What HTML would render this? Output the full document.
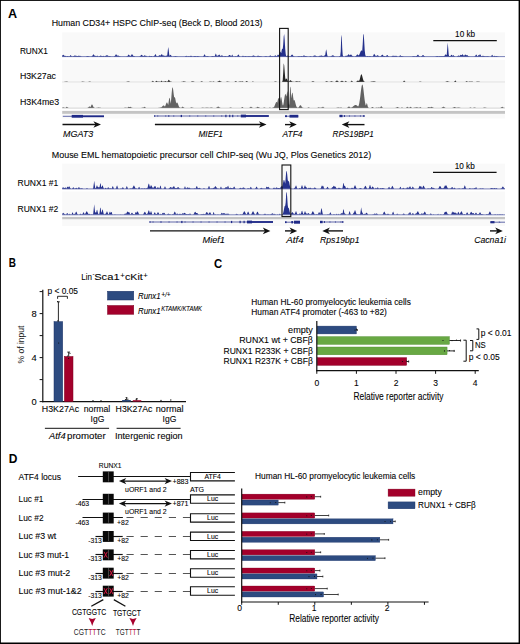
<!DOCTYPE html>
<html><head><meta charset="utf-8"><style>
html,body{margin:0;padding:0;background:#fff;}
body{width:520px;height:644px;overflow:hidden;font-family:"Liberation Sans",sans-serif;}
svg{display:block;}
text{font-family:"Liberation Sans",sans-serif;}
</style></head><body>
<svg width="520" height="644" viewBox="0 0 520 644" font-family="Liberation Sans">
<rect x="0.00" y="0.00" width="520.00" height="644.00" fill="#ffffff" />
<text x="8.00" y="18.00" font-size="12.6" font-weight="bold" fill="#000" >A</text>
<text x="51.70" y="25.90" font-size="9.78" stroke="#1a1a1a" stroke-width="0.1" textLength="210.80" lengthAdjust="spacingAndGlyphs" >Human CD34+ HSPC ChIP-seq (Beck D, Blood 2013)</text>
<rect x="62.20" y="32.30" width="442.80" height="24.90" fill="#f9f9f9" />
<path d="M62.2,56.40 L62.2,55.64 L62.7,55.00 L63.2,54.68 L63.7,55.00 L64.2,55.64 L64.7,55.72 L65.2,55.77 L65.7,56.04 L66.2,56.27 L66.7,56.21 L67.2,56.12 L67.7,56.11 L68.2,56.20 L68.7,56.30 L69.2,56.37 L69.7,56.17 L70.2,55.51 L70.7,55.07 L71.2,55.63 L71.7,56.23 L72.2,56.38 L72.7,56.35 L73.2,56.24 L73.7,56.01 L74.2,55.72 L74.7,55.53 L75.2,55.60 L75.7,55.87 L76.2,56.09 L76.7,55.75 L77.2,56.08 L77.7,56.00 L78.2,55.63 L78.7,55.81 L79.2,56.10 L79.7,55.74 L80.2,55.77 L80.7,56.14 L81.2,56.35 L81.7,56.40 L82.2,56.40 L82.7,56.40 L83.2,56.40 L83.7,56.40 L84.2,56.40 L84.7,56.40 L85.2,56.40 L85.7,56.38 L86.2,56.31 L86.7,56.16 L87.2,55.96 L87.7,55.88 L88.2,56.00 L88.7,56.20 L89.2,56.34 L89.7,56.39 L90.2,56.40 L90.7,56.40 L91.2,56.40 L91.7,56.36 L92.2,56.10 L92.7,55.29 L93.2,54.32 L93.7,54.46 L94.2,55.47 L94.7,55.45 L95.2,55.71 L95.7,56.05 L96.2,56.28 L96.7,55.93 L97.2,55.41 L97.7,55.90 L98.2,56.34 L98.7,56.38 L99.2,56.31 L99.7,56.09 L100.2,55.74 L100.7,55.51 L101.2,55.63 L101.7,55.97 L102.2,56.19 L102.7,55.90 L103.2,55.72 L103.7,55.89 L104.2,56.18 L104.7,56.26 L105.2,56.01 L105.7,55.80 L106.2,55.60 L106.7,55.22 L107.2,55.14 L107.7,55.41 L108.2,55.83 L108.7,56.16 L109.2,56.05 L109.7,56.10 L110.2,56.25 L110.7,56.36 L111.2,56.39 L111.7,56.40 L112.2,56.40 L112.7,56.40 L113.2,56.40 L113.7,56.39 L114.2,56.35 L114.7,56.12 L115.2,55.49 L115.7,54.61 L116.2,54.33 L116.7,54.99 L117.2,55.83 L117.7,55.60 L118.2,55.51 L118.7,55.68 L119.2,55.98 L119.7,56.22 L120.2,56.35 L120.7,56.39 L121.2,56.40 L121.7,56.40 L122.2,56.40 L122.7,56.40 L123.2,56.40 L123.7,56.40 L124.2,56.40 L124.7,56.40 L125.2,56.40 L125.7,56.40 L126.2,56.40 L126.7,56.37 L127.2,56.20 L127.7,55.69 L128.2,54.93 L128.7,54.61 L129.2,55.12 L129.7,55.86 L130.2,55.63 L130.7,55.88 L131.2,55.20 L131.7,54.30 L132.2,54.19 L132.7,55.00 L133.2,55.87 L133.7,56.08 L134.2,56.02 L134.7,56.24 L135.2,56.38 L135.7,56.40 L136.2,56.40 L136.7,56.40 L137.2,56.40 L137.7,56.40 L138.2,56.40 L138.7,56.40 L139.2,56.39 L139.7,56.34 L140.2,56.12 L140.7,55.59 L141.2,54.93 L141.7,54.71 L142.2,55.18 L142.7,55.84 L143.2,56.11 L143.7,56.09 L144.2,55.56 L144.7,55.34 L145.2,55.78 L145.7,55.64 L146.2,55.68 L146.7,56.16 L147.2,56.37 L147.7,56.40 L148.2,56.40 L148.7,56.34 L149.2,55.97 L149.7,55.66 L150.2,56.11 L150.7,56.33 L151.2,56.12 L151.7,56.05 L152.2,56.28 L152.7,56.38 L153.2,56.30 L153.7,56.15 L154.2,56.02 L154.7,55.24 L155.2,54.22 L155.7,54.37 L156.2,55.45 L156.7,56.16 L157.2,56.12 L157.7,56.29 L158.2,56.14 L158.7,55.70 L159.2,55.23 L159.7,55.16 L160.2,55.57 L160.7,55.39 L161.2,54.60 L161.7,54.22 L162.2,54.61 L162.7,55.41 L163.2,55.74 L163.7,55.29 L164.2,55.47 L164.7,56.01 L165.2,56.25 L165.7,55.64 L166.2,55.37 L166.7,56.04 L167.2,55.60 L167.7,51.28 L168.2,46.90 L168.7,50.12 L169.2,54.58 L169.7,55.89 L170.2,55.00 L170.7,54.68 L171.2,55.47 L171.7,56.17 L172.2,56.38 L172.7,56.40 L173.2,56.39 L173.7,56.36 L174.2,56.29 L174.7,56.19 L175.2,56.11 L175.7,56.12 L176.2,56.21 L176.7,56.31 L177.2,56.37 L177.7,56.39 L178.2,56.40 L178.7,56.40 L179.2,56.40 L179.7,56.40 L180.2,56.40 L180.7,56.40 L181.2,56.40 L181.7,56.40 L182.2,56.40 L182.7,56.40 L183.2,56.40 L183.7,56.40 L184.2,56.40 L184.7,56.39 L185.2,56.32 L185.7,56.07 L186.2,55.86 L186.7,56.08 L187.2,56.33 L187.7,56.35 L188.2,56.15 L188.7,56.03 L189.2,56.24 L189.7,56.35 L190.2,56.11 L190.7,55.71 L191.2,55.65 L191.7,56.03 L192.2,56.32 L192.7,56.38 L193.2,56.33 L193.7,56.22 L194.2,56.06 L194.7,55.92 L195.2,55.90 L195.7,56.02 L196.2,56.19 L196.7,56.22 L197.2,56.07 L197.7,56.01 L198.2,56.12 L198.7,56.27 L199.2,56.36 L199.7,56.39 L200.2,56.40 L200.7,56.40 L201.2,56.40 L201.7,56.40 L202.2,56.40 L202.7,56.40 L203.2,56.34 L203.7,55.87 L204.2,54.70 L204.7,54.24 L205.2,55.32 L205.7,56.19 L206.2,56.19 L206.7,56.08 L207.2,56.05 L207.7,56.12 L208.2,56.25 L208.7,56.34 L209.2,56.38 L209.7,56.40 L210.2,56.40 L210.7,56.38 L211.2,56.33 L211.7,56.21 L212.2,56.04 L212.7,55.94 L213.2,55.98 L213.7,56.14 L214.2,56.28 L214.7,56.13 L215.2,54.94 L215.7,53.46 L216.2,54.22 L216.7,55.81 L217.2,56.12 L217.7,55.58 L218.2,55.55 L218.7,54.90 L219.2,54.62 L219.7,54.98 L220.2,55.64 L220.7,56.04 L221.2,55.66 L221.7,55.37 L222.2,55.45 L222.7,55.81 L223.2,56.15 L223.7,56.33 L224.2,56.22 L224.7,56.07 L225.2,55.97 L225.7,56.00 L226.2,56.14 L226.7,56.28 L227.2,56.36 L227.7,56.29 L228.2,56.04 L228.7,55.55 L229.2,55.03 L229.7,54.89 L230.2,55.26 L230.7,55.81 L231.2,56.19 L231.7,55.40 L232.2,54.55 L232.7,55.57 L233.2,56.31 L233.7,56.40 L234.2,56.40 L234.7,56.35 L235.2,56.20 L235.7,56.05 L236.2,56.15 L236.7,56.33 L237.2,56.06 L237.7,55.23 L238.2,54.48 L238.7,54.87 L239.2,55.80 L239.7,56.29 L240.2,56.39 L240.7,56.40 L241.2,56.40 L241.7,56.39 L242.2,56.23 L242.7,55.77 L243.2,55.74 L243.7,56.20 L244.2,56.27 L244.7,56.17 L245.2,56.10 L245.7,56.12 L246.2,56.21 L246.7,56.31 L247.2,56.37 L247.7,56.32 L248.2,56.22 L248.7,56.12 L249.2,56.09 L249.7,56.16 L250.2,56.27 L250.7,56.35 L251.2,56.35 L251.7,56.24 L252.2,56.00 L252.7,55.65 L253.2,55.38 L253.7,55.39 L254.2,55.67 L254.7,56.02 L255.2,56.25 L255.7,56.36 L256.2,56.39 L256.7,56.34 L257.2,56.09 L257.7,55.64 L258.2,55.57 L258.7,56.00 L259.2,56.00 L259.7,55.94 L260.2,56.02 L260.7,56.17 L261.2,56.30 L261.7,56.37 L262.2,56.39 L262.7,56.40 L263.2,56.40 L263.7,56.40 L264.2,56.40 L264.7,56.35 L265.2,56.17 L265.7,55.92 L266.2,55.95 L266.7,56.21 L267.2,56.36 L267.7,56.40 L268.2,56.39 L268.7,56.35 L269.2,56.20 L269.7,55.86 L270.2,55.54 L270.7,55.60 L271.2,55.96 L271.7,56.26 L272.2,56.19 L272.7,56.10 L273.2,56.23 L273.7,56.36 L274.2,56.26 L274.7,55.81 L275.2,55.32 L275.7,55.55 L276.2,56.11 L276.7,56.34 L277.2,55.86 L277.7,54.83 L278.2,54.87 L278.7,55.20 L279.2,53.81 L279.7,52.29 L280.2,51.60 L280.7,52.29 L281.2,53.29 L281.7,50.36 L282.2,48.46 L282.7,49.34 L283.2,44.40 L283.7,36.46 L284.2,34.00 L284.7,39.99 L285.2,48.69 L285.7,54.08 L286.2,55.95 L286.7,55.95 L287.2,55.68 L287.7,55.58 L288.2,55.73 L288.7,56.01 L289.2,56.24 L289.7,56.35 L290.2,56.28 L290.7,55.96 L291.2,55.35 L291.7,54.69 L292.2,54.51 L292.7,54.98 L293.2,55.68 L293.7,56.15 L294.2,56.34 L294.7,56.39 L295.2,56.40 L295.7,56.40 L296.2,56.40 L296.7,56.40 L297.2,56.38 L297.7,56.32 L298.2,56.19 L298.7,56.07 L299.2,56.07 L299.7,56.18 L300.2,56.27 L300.7,56.17 L301.2,56.10 L301.7,56.11 L302.2,56.20 L302.7,56.16 L303.2,55.87 L303.7,55.59 L304.2,55.54 L304.7,55.76 L305.2,56.08 L305.7,55.98 L306.2,55.89 L306.7,56.15 L307.2,56.35 L307.7,56.40 L308.2,56.40 L308.7,56.40 L309.2,56.40 L309.7,56.34 L310.2,56.15 L310.7,56.08 L311.2,56.27 L311.7,56.38 L312.2,56.40 L312.7,56.38 L313.2,56.20 L313.7,55.67 L314.2,55.36 L314.7,55.82 L315.2,55.62 L315.7,55.69 L316.2,56.00 L316.7,56.26 L317.2,56.37 L317.7,56.40 L318.2,56.37 L318.7,56.25 L319.2,55.94 L319.7,55.64 L320.2,55.72 L320.7,55.78 L321.2,55.52 L321.7,55.51 L322.2,55.77 L322.7,56.08 L323.2,56.28 L323.7,56.01 L324.2,55.31 L324.7,55.65 L325.2,55.02 L325.7,51.64 L326.2,49.20 L326.7,51.64 L327.2,55.02 L327.7,56.23 L328.2,56.39 L328.7,56.40 L329.2,56.40 L329.7,56.40 L330.2,56.39 L330.7,56.36 L331.2,56.22 L331.7,55.86 L332.2,55.38 L332.7,55.13 L333.2,55.36 L333.7,55.84 L334.2,56.21 L334.7,56.36 L335.2,56.39 L335.7,56.40 L336.2,56.40 L336.7,56.40 L337.2,56.40 L337.7,56.40 L338.2,56.40 L338.7,56.39 L339.2,56.29 L339.7,56.05 L340.2,56.00 L340.7,51.56 L341.2,37.58 L341.7,34.71 L342.2,47.58 L342.7,55.08 L343.2,56.33 L343.7,56.40 L344.2,56.40 L344.7,56.38 L345.2,56.21 L345.7,55.75 L346.2,55.62 L346.7,56.08 L347.2,55.86 L347.7,55.13 L348.2,54.39 L348.7,54.23 L349.2,54.81 L349.7,55.61 L350.2,54.95 L350.7,54.49 L351.2,54.58 L351.7,55.14 L352.2,55.77 L352.7,56.17 L353.2,56.34 L353.7,56.39 L354.2,56.40 L354.7,56.39 L355.2,56.33 L355.7,56.15 L356.2,55.73 L356.7,55.08 L357.2,54.52 L357.7,54.46 L358.2,54.94 L358.7,55.59 L359.2,54.84 L359.7,53.77 L360.2,52.50 L360.7,51.30 L361.2,50.54 L361.7,50.46 L362.2,51.11 L362.7,44.22 L363.2,35.05 L363.7,33.82 L364.2,41.26 L364.7,49.89 L365.2,54.61 L365.7,56.08 L366.2,56.36 L366.7,56.28 L367.2,56.03 L367.7,55.94 L368.2,56.18 L368.7,56.36 L369.2,56.27 L369.7,56.10 L370.2,56.03 L370.7,56.16 L371.2,56.32 L371.7,56.39 L372.2,56.39 L372.7,56.29 L373.2,55.75 L373.7,54.56 L374.2,53.80 L374.7,54.56 L375.2,55.52 L375.7,55.82 L376.2,56.05 L376.7,55.63 L377.2,55.24 L377.7,55.23 L378.2,55.60 L378.7,56.04 L379.2,56.29 L379.7,56.38 L380.2,56.35 L380.7,56.18 L381.2,55.74 L381.7,55.09 L382.2,54.66 L382.7,54.86 L383.2,55.50 L383.7,56.04 L384.2,56.04 L384.7,55.97 L385.2,56.25 L385.7,56.27 L386.2,55.91 L386.7,55.31 L387.2,55.00 L387.7,55.36 L388.2,55.96 L388.7,56.29 L389.2,56.38 L389.7,56.40 L390.2,56.40 L390.7,56.40 L391.2,56.38 L391.7,56.29 L392.2,56.04 L392.7,55.71 L393.2,55.62 L393.7,55.88 L394.2,56.05 L394.7,55.86 L395.2,55.93 L395.7,55.81 L396.2,55.73 L396.7,56.06 L397.2,56.33 L397.7,56.39 L398.2,56.40 L398.7,56.38 L399.2,56.25 L399.7,55.82 L400.2,55.32 L400.7,55.42 L401.2,55.97 L401.7,55.97 L402.2,55.98 L402.7,56.15 L403.2,56.31 L403.7,56.38 L404.2,56.40 L404.7,56.40 L405.2,56.40 L405.7,56.40 L406.2,56.40 L406.7,56.40 L407.2,56.40 L407.7,56.40 L408.2,56.40 L408.7,56.40 L409.2,56.40 L409.7,56.40 L410.2,56.40 L410.7,56.40 L411.2,56.40 L411.7,56.40 L412.2,56.37 L412.7,56.29 L413.2,56.15 L413.7,56.05 L414.2,56.10 L414.7,56.24 L415.2,56.27 L415.7,56.13 L416.2,56.12 L416.7,56.03 L417.2,55.37 L417.7,54.72 L418.2,54.77 L418.7,55.46 L419.2,56.08 L419.7,56.34 L420.2,56.39 L420.7,56.39 L421.2,56.34 L421.7,56.12 L422.2,55.63 L422.7,55.11 L423.2,55.06 L423.7,55.54 L424.2,56.06 L424.7,56.32 L425.2,56.39 L425.7,56.40 L426.2,56.40 L426.7,56.40 L427.2,56.40 L427.7,56.40 L428.2,56.40 L428.7,56.40 L429.2,56.40 L429.7,56.40 L430.2,56.40 L430.7,56.40 L431.2,56.40 L431.7,56.40 L432.2,56.40 L432.7,56.40 L433.2,56.40 L433.7,56.40 L434.2,56.40 L434.7,56.40 L435.2,56.38 L435.7,56.32 L436.2,56.19 L436.7,56.02 L437.2,55.96 L437.7,56.08 L438.2,56.25 L438.7,56.28 L439.2,56.16 L439.7,56.06 L440.2,56.08 L440.7,56.19 L441.2,56.24 L441.7,56.12 L442.2,56.12 L442.7,56.24 L443.2,56.29 L443.7,56.10 L444.2,55.89 L444.7,55.60 L445.2,54.79 L445.7,54.33 L446.2,54.70 L446.7,55.21 L447.2,48.85 L447.7,42.40 L448.2,47.91 L448.7,54.51 L449.2,56.14 L449.7,56.03 L450.2,56.03 L450.7,55.78 L451.2,55.05 L451.7,54.74 L452.2,55.25 L452.7,55.95 L453.2,55.25 L453.7,55.15 L454.2,55.93 L454.7,56.34 L455.2,56.40 L455.7,56.40 L456.2,56.40 L456.7,56.40 L457.2,56.36 L457.7,56.12 L458.2,55.56 L458.7,55.42 L459.2,55.95 L459.7,55.70 L460.2,55.16 L460.7,54.87 L461.2,55.08 L461.7,55.25 L462.2,54.46 L462.7,54.31 L463.2,54.95 L463.7,55.75 L464.2,55.77 L464.7,55.00 L465.2,54.50 L465.7,54.84 L466.2,55.56 L466.7,55.07 L467.2,54.99 L467.7,55.39 L468.2,55.92 L468.7,56.24 L469.2,56.37 L469.7,56.40 L470.2,56.40 L470.7,56.40 L471.2,56.40 L471.7,56.40 L472.2,56.40 L472.7,56.40 L473.2,56.40 L473.7,56.40 L474.2,56.39 L474.7,56.31 L475.2,55.90 L475.7,54.99 L476.2,54.40 L476.7,54.99 L477.2,55.90 L477.7,56.20 L478.2,55.56 L478.7,54.99 L479.2,55.45 L479.7,54.46 L480.2,54.32 L480.7,55.29 L481.2,56.10 L481.7,56.31 L482.2,56.10 L482.7,55.84 L483.2,55.82 L483.7,56.07 L484.2,56.10 L484.7,56.13 L485.2,56.25 L485.7,56.35 L486.2,56.27 L486.7,56.15 L487.2,56.10 L487.7,56.17 L488.2,56.28 L488.7,56.36 L489.2,56.39 L489.7,56.40 L490.2,56.40 L490.7,56.39 L491.2,56.18 L491.7,55.30 L492.2,54.73 L492.7,55.62 L493.2,56.29 L493.7,56.15 L494.2,55.88 L494.7,55.80 L495.2,56.01 L495.7,56.14 L496.2,56.01 L496.7,56.01 L497.2,56.13 L497.7,56.28 L498.2,56.36 L498.7,56.39 L499.2,56.40 L499.7,56.40 L500.2,56.40 L500.7,56.40 L501.2,56.40 L501.7,56.40 L502.2,56.40 L502.7,56.40 L503.2,56.40 L503.7,56.40 L504.2,56.40 L504.7,56.40 L505.0,56.40 Z" fill="#25318c"/>
<line x1="62.20" y1="56.60" x2="505.00" y2="56.60" stroke="#25318c" stroke-width="0.6" />
<rect x="62.20" y="59.80" width="442.80" height="22.90" fill="#f9f9f9" />
<path d="M62.2,81.90 L62.2,81.90 L62.7,81.90 L63.2,81.90 L63.7,81.90 L64.2,81.88 L64.7,81.83 L65.2,81.73 L65.7,81.63 L66.2,81.59 L66.7,81.66 L67.2,81.77 L67.7,81.85 L68.2,81.89 L68.7,81.90 L69.2,81.90 L69.7,81.90 L70.2,81.90 L70.7,81.90 L71.2,81.90 L71.7,81.90 L72.2,81.90 L72.7,81.90 L73.2,81.90 L73.7,81.90 L74.2,81.90 L74.7,81.90 L75.2,81.90 L75.7,81.90 L76.2,81.90 L76.7,81.90 L77.2,81.90 L77.7,81.90 L78.2,81.90 L78.7,81.90 L79.2,81.90 L79.7,81.90 L80.2,81.90 L80.7,81.90 L81.2,81.89 L81.7,81.85 L82.2,81.74 L82.7,81.62 L83.2,81.63 L83.7,81.76 L84.2,81.86 L84.7,81.89 L85.2,81.90 L85.7,81.90 L86.2,81.90 L86.7,81.90 L87.2,81.90 L87.7,81.90 L88.2,81.89 L88.7,81.84 L89.2,81.70 L89.7,81.60 L90.2,81.69 L90.7,81.84 L91.2,81.89 L91.7,81.90 L92.2,81.90 L92.7,81.90 L93.2,81.90 L93.7,81.90 L94.2,81.90 L94.7,81.90 L95.2,81.90 L95.7,81.90 L96.2,81.90 L96.7,81.90 L97.2,81.90 L97.7,81.90 L98.2,81.90 L98.7,81.90 L99.2,81.90 L99.7,81.90 L100.2,81.90 L100.7,81.90 L101.2,81.90 L101.7,81.90 L102.2,81.90 L102.7,81.90 L103.2,81.90 L103.7,81.90 L104.2,81.90 L104.7,81.90 L105.2,81.90 L105.7,81.90 L106.2,81.90 L106.7,81.90 L107.2,81.90 L107.7,81.90 L108.2,81.90 L108.7,81.90 L109.2,81.90 L109.7,81.90 L110.2,81.90 L110.7,81.90 L111.2,81.90 L111.7,81.90 L112.2,81.90 L112.7,81.90 L113.2,81.90 L113.7,81.90 L114.2,81.90 L114.7,81.90 L115.2,81.90 L115.7,81.90 L116.2,81.90 L116.7,81.90 L117.2,81.90 L117.7,81.90 L118.2,81.90 L118.7,81.90 L119.2,81.90 L119.7,81.90 L120.2,81.90 L120.7,81.90 L121.2,81.90 L121.7,81.90 L122.2,81.90 L122.7,81.90 L123.2,81.90 L123.7,81.90 L124.2,81.90 L124.7,81.90 L125.2,81.90 L125.7,81.90 L126.2,81.89 L126.7,81.84 L127.2,81.72 L127.7,81.55 L128.2,81.47 L128.7,81.56 L129.2,81.73 L129.7,81.85 L130.2,81.89 L130.7,81.90 L131.2,81.90 L131.7,81.90 L132.2,81.90 L132.7,81.90 L133.2,81.90 L133.7,81.90 L134.2,81.90 L134.7,81.90 L135.2,81.90 L135.7,81.90 L136.2,81.90 L136.7,81.90 L137.2,81.90 L137.7,81.90 L138.2,81.90 L138.7,81.90 L139.2,81.90 L139.7,81.90 L140.2,81.90 L140.7,81.90 L141.2,81.90 L141.7,81.90 L142.2,81.90 L142.7,81.90 L143.2,81.90 L143.7,81.90 L144.2,81.90 L144.7,81.90 L145.2,81.90 L145.7,81.90 L146.2,81.90 L146.7,81.90 L147.2,81.90 L147.7,81.90 L148.2,81.90 L148.7,81.90 L149.2,81.90 L149.7,81.90 L150.2,81.90 L150.7,81.90 L151.2,81.90 L151.7,81.84 L152.2,81.42 L152.7,80.72 L153.2,81.04 L153.7,81.71 L154.2,81.89 L154.7,81.89 L155.2,81.81 L155.7,81.48 L156.2,80.90 L156.7,80.68 L157.2,81.13 L157.7,81.65 L158.2,81.81 L158.7,81.57 L159.2,81.45 L159.7,81.69 L160.2,81.87 L160.7,81.69 L161.2,80.83 L161.7,80.65 L162.2,81.56 L162.7,81.80 L163.2,81.67 L163.7,81.55 L164.2,81.53 L164.7,81.55 L165.2,81.13 L165.7,81.07 L166.2,81.46 L166.7,81.79 L167.2,81.74 L167.7,81.26 L168.2,80.38 L168.7,79.72 L169.2,80.03 L169.7,80.94 L170.2,81.60 L170.7,81.47 L171.2,81.63 L171.7,81.86 L172.2,81.90 L172.7,81.90 L173.2,81.90 L173.7,81.90 L174.2,81.90 L174.7,81.90 L175.2,81.90 L175.7,81.90 L176.2,81.90 L176.7,81.90 L177.2,81.90 L177.7,81.90 L178.2,81.90 L178.7,81.90 L179.2,81.90 L179.7,81.90 L180.2,81.90 L180.7,81.90 L181.2,81.89 L181.7,81.87 L182.2,81.80 L182.7,81.65 L183.2,81.46 L183.7,81.36 L184.2,81.44 L184.7,81.62 L185.2,81.78 L185.7,81.87 L186.2,81.89 L186.7,81.90 L187.2,81.90 L187.7,81.90 L188.2,81.90 L188.7,81.90 L189.2,81.90 L189.7,81.90 L190.2,81.90 L190.7,81.89 L191.2,81.81 L191.7,81.47 L192.2,81.23 L192.7,81.56 L193.2,81.62 L193.7,81.62 L194.2,81.82 L194.7,81.89 L195.2,81.90 L195.7,81.90 L196.2,81.90 L196.7,81.90 L197.2,81.90 L197.7,81.90 L198.2,81.90 L198.7,81.90 L199.2,81.90 L199.7,81.90 L200.2,81.89 L200.7,81.83 L201.2,81.59 L201.7,81.36 L202.2,81.52 L202.7,81.79 L203.2,81.89 L203.7,81.90 L204.2,81.90 L204.7,81.90 L205.2,81.90 L205.7,81.90 L206.2,81.90 L206.7,81.90 L207.2,81.90 L207.7,81.90 L208.2,81.90 L208.7,81.90 L209.2,81.87 L209.7,81.77 L210.2,81.63 L210.7,81.62 L211.2,81.76 L211.7,81.86 L212.2,81.89 L212.7,81.80 L213.2,81.61 L213.7,81.58 L214.2,81.76 L214.7,81.88 L215.2,81.90 L215.7,81.90 L216.2,81.90 L216.7,81.89 L217.2,81.85 L217.7,81.73 L218.2,81.45 L218.7,81.03 L219.2,80.67 L219.7,80.64 L220.2,80.97 L220.7,81.40 L221.2,81.71 L221.7,81.85 L222.2,81.89 L222.7,81.90 L223.2,81.90 L223.7,81.90 L224.2,81.90 L224.7,81.90 L225.2,81.90 L225.7,81.88 L226.2,81.83 L226.7,81.72 L227.2,81.62 L227.7,81.59 L228.2,81.68 L228.7,81.79 L229.2,81.86 L229.7,81.89 L230.2,81.90 L230.7,81.90 L231.2,81.90 L231.7,81.90 L232.2,81.90 L232.7,81.90 L233.2,81.90 L233.7,81.90 L234.2,81.90 L234.7,81.87 L235.2,81.61 L235.7,81.09 L236.2,81.24 L236.7,81.75 L237.2,81.89 L237.7,81.90 L238.2,81.89 L238.7,81.85 L239.2,81.68 L239.7,81.43 L240.2,81.38 L240.7,81.61 L241.2,81.81 L241.7,81.43 L242.2,81.20 L242.7,81.62 L243.2,81.87 L243.7,81.90 L244.2,81.90 L244.7,81.90 L245.2,81.89 L245.7,81.77 L246.2,81.30 L246.7,80.91 L247.2,81.31 L247.7,81.77 L248.2,81.89 L248.7,81.90 L249.2,81.90 L249.7,81.90 L250.2,81.90 L250.7,81.90 L251.2,81.90 L251.7,81.89 L252.2,81.80 L252.7,81.60 L253.2,81.66 L253.7,81.85 L254.2,81.90 L254.7,81.90 L255.2,81.90 L255.7,81.90 L256.2,81.90 L256.7,81.90 L257.2,81.90 L257.7,81.90 L258.2,81.90 L258.7,81.90 L259.2,81.90 L259.7,81.90 L260.2,81.90 L260.7,81.90 L261.2,81.90 L261.7,81.90 L262.2,81.90 L262.7,81.90 L263.2,81.90 L263.7,81.90 L264.2,81.90 L264.7,81.90 L265.2,81.90 L265.7,81.90 L266.2,81.90 L266.7,81.90 L267.2,81.90 L267.7,81.90 L268.2,81.90 L268.7,81.90 L269.2,81.90 L269.7,81.90 L270.2,81.90 L270.7,81.90 L271.2,81.90 L271.7,81.90 L272.2,81.90 L272.7,81.90 L273.2,81.90 L273.7,81.89 L274.2,81.86 L274.7,81.76 L275.2,81.59 L275.7,81.54 L276.2,81.67 L276.7,81.82 L277.2,81.88 L277.7,81.90 L278.2,81.90 L278.7,81.90 L279.2,81.90 L279.7,81.90 L280.2,81.90 L280.7,81.90 L281.2,81.90 L281.7,81.90 L282.2,81.79 L282.7,80.21 L283.2,72.65 L283.7,63.28 L284.2,65.13 L284.7,71.81 L285.2,77.79 L285.7,79.78 L286.2,78.64 L286.7,78.51 L287.2,79.51 L287.7,80.76 L288.2,81.53 L288.7,81.76 L289.2,81.42 L289.7,80.81 L290.2,80.22 L290.7,80.16 L291.2,80.67 L291.7,81.32 L292.2,81.54 L292.7,81.65 L293.2,81.79 L293.7,81.87 L294.2,81.89 L294.7,81.84 L295.2,81.73 L295.7,81.53 L296.2,81.32 L296.7,81.25 L297.2,81.37 L297.7,81.59 L298.2,81.64 L298.7,81.40 L299.2,81.28 L299.7,81.40 L300.2,81.64 L300.7,81.81 L301.2,81.88 L301.7,81.90 L302.2,81.90 L302.7,81.90 L303.2,81.90 L303.7,81.90 L304.2,81.90 L304.7,81.90 L305.2,81.90 L305.7,81.90 L306.2,81.90 L306.7,81.90 L307.2,81.90 L307.7,81.90 L308.2,81.90 L308.7,81.90 L309.2,81.90 L309.7,81.90 L310.2,81.90 L310.7,81.90 L311.2,81.88 L311.7,81.80 L312.2,81.57 L312.7,81.32 L313.2,81.34 L313.7,81.61 L314.2,81.82 L314.7,81.89 L315.2,81.90 L315.7,81.90 L316.2,81.90 L316.7,81.90 L317.2,81.90 L317.7,81.90 L318.2,81.90 L318.7,81.90 L319.2,81.90 L319.7,81.90 L320.2,81.90 L320.7,81.90 L321.2,81.90 L321.7,81.90 L322.2,81.90 L322.7,81.90 L323.2,81.90 L323.7,81.90 L324.2,81.90 L324.7,81.90 L325.2,81.87 L325.7,81.71 L326.2,81.36 L326.7,81.13 L327.2,81.36 L327.7,81.71 L328.2,81.87 L328.7,81.90 L329.2,81.89 L329.7,81.86 L330.2,81.76 L330.7,81.55 L331.2,81.37 L331.7,81.37 L332.2,81.56 L332.7,81.76 L333.2,81.86 L333.7,81.89 L334.2,81.90 L334.7,81.88 L335.2,81.78 L335.7,81.50 L336.2,81.00 L336.7,80.57 L337.2,80.62 L337.7,81.10 L338.2,81.57 L338.7,81.81 L339.2,81.88 L339.7,81.88 L340.2,81.82 L340.7,81.61 L341.2,81.23 L341.7,80.87 L342.2,80.83 L342.7,81.17 L343.2,81.57 L343.7,81.80 L344.2,81.88 L344.7,81.83 L345.2,81.42 L345.7,80.84 L346.2,81.15 L346.7,81.73 L347.2,81.89 L347.7,81.90 L348.2,81.90 L348.7,81.90 L349.2,81.90 L349.7,81.90 L350.2,81.90 L350.7,81.84 L351.2,81.35 L351.7,80.51 L352.2,80.96 L352.7,81.73 L353.2,81.89 L353.7,81.90 L354.2,81.90 L354.7,81.90 L355.2,81.90 L355.7,81.88 L356.2,81.78 L356.7,81.50 L357.2,80.99 L357.7,80.50 L358.2,80.45 L358.7,80.88 L359.2,80.84 L359.7,79.54 L360.2,77.60 L360.7,75.53 L361.2,74.23 L361.7,74.38 L362.2,75.91 L362.7,78.02 L363.2,79.86 L363.7,80.93 L364.2,81.42 L364.7,81.81 L365.2,81.88 L365.7,81.90 L366.2,81.90 L366.7,81.90 L367.2,81.90 L367.7,81.90 L368.2,81.90 L368.7,81.90 L369.2,81.90 L369.7,81.90 L370.2,81.90 L370.7,81.87 L371.2,81.75 L371.7,81.53 L372.2,81.42 L372.7,81.57 L373.2,81.40 L373.7,81.24 L374.2,81.27 L374.7,81.46 L375.2,81.68 L375.7,81.82 L376.2,81.88 L376.7,81.90 L377.2,81.90 L377.7,81.90 L378.2,81.90 L378.7,81.90 L379.2,81.90 L379.7,81.90 L380.2,81.90 L380.7,81.90 L381.2,81.90 L381.7,81.90 L382.2,81.90 L382.7,81.90 L383.2,81.90 L383.7,81.90 L384.2,81.90 L384.7,81.90 L385.2,81.90 L385.7,81.90 L386.2,81.90 L386.7,81.90 L387.2,81.90 L387.7,81.90 L388.2,81.90 L388.7,81.90 L389.2,81.90 L389.7,81.90 L390.2,81.90 L390.7,81.90 L391.2,81.90 L391.7,81.90 L392.2,81.90 L392.7,81.90 L393.2,81.90 L393.7,81.90 L394.2,81.90 L394.7,81.90 L395.2,81.90 L395.7,81.90 L396.2,81.90 L396.7,81.90 L397.2,81.90 L397.7,81.90 L398.2,81.90 L398.7,81.90 L399.2,81.90 L399.7,81.90 L400.2,81.90 L400.7,81.90 L401.2,81.90 L401.7,81.90 L402.2,81.90 L402.7,81.89 L403.2,81.73 L403.7,81.01 L404.2,80.50 L404.7,81.24 L405.2,81.81 L405.7,81.90 L406.2,81.90 L406.7,81.90 L407.2,81.90 L407.7,81.90 L408.2,81.90 L408.7,81.90 L409.2,81.90 L409.7,81.90 L410.2,81.90 L410.7,81.90 L411.2,81.90 L411.7,81.90 L412.2,81.90 L412.7,81.90 L413.2,81.90 L413.7,81.90 L414.2,81.90 L414.7,81.90 L415.2,81.90 L415.7,81.90 L416.2,81.90 L416.7,81.90 L417.2,81.90 L417.7,81.90 L418.2,81.90 L418.7,81.90 L419.2,81.86 L419.7,81.69 L420.2,81.53 L420.7,81.67 L421.2,81.85 L421.7,81.90 L422.2,81.90 L422.7,81.90 L423.2,81.90 L423.7,81.90 L424.2,81.90 L424.7,81.90 L425.2,81.90 L425.7,81.90 L426.2,81.90 L426.7,81.90 L427.2,81.90 L427.7,81.90 L428.2,81.90 L428.7,81.90 L429.2,81.90 L429.7,81.90 L430.2,81.90 L430.7,81.90 L431.2,81.90 L431.7,81.90 L432.2,81.90 L432.7,81.90 L433.2,81.90 L433.7,81.90 L434.2,81.90 L434.7,81.90 L435.2,81.90 L435.7,81.90 L436.2,81.90 L436.7,81.90 L437.2,81.90 L437.7,81.90 L438.2,81.90 L438.7,81.90 L439.2,81.90 L439.7,81.90 L440.2,81.90 L440.7,81.90 L441.2,81.90 L441.7,81.90 L442.2,81.90 L442.7,81.90 L443.2,81.90 L443.7,81.90 L444.2,81.90 L444.7,81.90 L445.2,81.89 L445.7,81.83 L446.2,81.66 L446.7,81.36 L447.2,81.14 L447.7,81.23 L448.2,81.52 L448.7,81.77 L449.2,81.87 L449.7,81.90 L450.2,81.90 L450.7,81.90 L451.2,81.90 L451.7,81.90 L452.2,81.90 L452.7,81.90 L453.2,81.90 L453.7,81.90 L454.2,81.83 L454.7,81.36 L455.2,80.55 L455.7,80.84 L456.2,81.64 L456.7,81.88 L457.2,81.90 L457.7,81.90 L458.2,81.90 L458.7,81.90 L459.2,81.90 L459.7,81.90 L460.2,81.90 L460.7,81.90 L461.2,81.90 L461.7,81.90 L462.2,81.90 L462.7,81.90 L463.2,81.90 L463.7,81.90 L464.2,81.90 L464.7,81.90 L465.2,81.90 L465.7,81.83 L466.2,81.49 L466.7,81.11 L467.2,81.40 L467.7,81.79 L468.2,81.89 L468.7,81.87 L469.2,81.75 L469.7,81.57 L470.2,81.61 L470.7,81.79 L471.2,81.69 L471.7,81.47 L472.2,81.55 L472.7,81.78 L473.2,81.88 L473.7,81.90 L474.2,81.90 L474.7,81.90 L475.2,81.90 L475.7,81.89 L476.2,81.86 L476.7,81.78 L477.2,81.66 L477.7,81.58 L478.2,81.60 L478.7,81.71 L479.2,81.81 L479.7,81.87 L480.2,81.89 L480.7,81.90 L481.2,81.90 L481.7,81.90 L482.2,81.90 L482.7,81.90 L483.2,81.90 L483.7,81.90 L484.2,81.90 L484.7,81.90 L485.2,81.90 L485.7,81.90 L486.2,81.90 L486.7,81.90 L487.2,81.90 L487.7,81.90 L488.2,81.90 L488.7,81.90 L489.2,81.90 L489.7,81.90 L490.2,81.90 L490.7,81.90 L491.2,81.90 L491.7,81.90 L492.2,81.90 L492.7,81.90 L493.2,81.90 L493.7,81.90 L494.2,81.90 L494.7,81.90 L495.2,81.90 L495.7,81.90 L496.2,81.90 L496.7,81.90 L497.2,81.90 L497.7,81.90 L498.2,81.90 L498.7,81.90 L499.2,81.90 L499.7,81.90 L500.2,81.90 L500.7,81.90 L501.2,81.90 L501.7,81.90 L502.2,81.90 L502.7,81.90 L503.2,81.90 L503.7,81.90 L504.2,81.90 L504.7,81.90 L505.0,81.90 Z" fill="#262626"/>
<line x1="62.20" y1="82.10" x2="505.00" y2="82.10" stroke="#b8b8b8" stroke-width="0.5" />
<rect x="62.20" y="82.60" width="442.80" height="26.10" fill="#f9f9f9" />
<path d="M62.2,107.90 L62.2,107.74 L62.7,107.42 L63.2,107.21 L63.7,107.42 L64.2,107.74 L64.7,107.87 L65.2,107.89 L65.7,107.76 L66.2,107.26 L66.7,106.70 L67.2,106.97 L67.7,107.61 L68.2,107.86 L68.7,107.90 L69.2,107.90 L69.7,107.90 L70.2,107.90 L70.7,107.90 L71.2,107.90 L71.7,107.90 L72.2,107.90 L72.7,107.90 L73.2,107.90 L73.7,107.90 L74.2,107.90 L74.7,107.90 L75.2,107.90 L75.7,107.90 L76.2,107.90 L76.7,107.90 L77.2,107.90 L77.7,107.90 L78.2,107.90 L78.7,107.90 L79.2,107.90 L79.7,107.90 L80.2,107.90 L80.7,107.90 L81.2,107.90 L81.7,107.90 L82.2,107.90 L82.7,107.90 L83.2,107.90 L83.7,107.90 L84.2,107.90 L84.7,107.90 L85.2,107.90 L85.7,107.90 L86.2,107.90 L86.7,107.90 L87.2,107.88 L87.7,107.78 L88.2,107.50 L88.7,106.99 L89.2,106.50 L89.7,106.45 L90.2,106.88 L90.7,106.63 L91.2,105.47 L91.7,104.49 L92.2,104.39 L92.7,105.24 L93.2,106.42 L93.7,107.30 L94.2,107.72 L94.7,107.86 L95.2,107.89 L95.7,107.90 L96.2,107.89 L96.7,107.87 L97.2,107.82 L97.7,107.72 L98.2,107.60 L98.7,107.54 L99.2,107.59 L99.7,107.70 L100.2,107.81 L100.7,107.87 L101.2,107.89 L101.7,107.90 L102.2,107.90 L102.7,107.90 L103.2,107.90 L103.7,107.90 L104.2,107.90 L104.7,107.90 L105.2,107.90 L105.7,107.90 L106.2,107.90 L106.7,107.90 L107.2,107.90 L107.7,107.90 L108.2,107.90 L108.7,107.90 L109.2,107.90 L109.7,107.90 L110.2,107.90 L110.7,107.90 L111.2,107.90 L111.7,107.90 L112.2,107.90 L112.7,107.90 L113.2,107.90 L113.7,107.90 L114.2,107.90 L114.7,107.90 L115.2,107.90 L115.7,107.90 L116.2,107.90 L116.7,107.90 L117.2,107.90 L117.7,107.90 L118.2,107.90 L118.7,107.90 L119.2,107.90 L119.7,107.90 L120.2,107.90 L120.7,107.90 L121.2,107.90 L121.7,107.90 L122.2,107.90 L122.7,107.90 L123.2,107.90 L123.7,107.89 L124.2,107.85 L124.7,107.76 L125.2,107.66 L125.7,107.60 L126.2,107.64 L126.7,107.74 L127.2,107.83 L127.7,107.63 L128.2,107.12 L128.7,106.76 L129.2,107.05 L129.7,107.00 L130.2,106.82 L130.7,106.99 L131.2,107.37 L131.7,107.68 L132.2,107.84 L132.7,107.89 L133.2,107.90 L133.7,107.90 L134.2,107.90 L134.7,107.90 L135.2,107.90 L135.7,107.90 L136.2,107.90 L136.7,107.90 L137.2,107.90 L137.7,107.90 L138.2,107.90 L138.7,107.90 L139.2,107.90 L139.7,107.90 L140.2,107.90 L140.7,107.90 L141.2,107.89 L141.7,107.83 L142.2,107.68 L142.7,107.46 L143.2,107.38 L143.7,107.53 L144.2,106.90 L144.7,106.63 L145.2,107.18 L145.7,107.72 L146.2,107.88 L146.7,107.90 L147.2,107.90 L147.7,107.90 L148.2,107.90 L148.7,107.90 L149.2,107.90 L149.7,107.90 L150.2,107.90 L150.7,107.90 L151.2,107.90 L151.7,107.90 L152.2,107.90 L152.7,107.90 L153.2,107.90 L153.7,107.90 L154.2,107.90 L154.7,107.90 L155.2,107.90 L155.7,107.90 L156.2,107.90 L156.7,107.90 L157.2,107.90 L157.7,107.90 L158.2,107.89 L158.7,107.87 L159.2,107.81 L159.7,107.69 L160.2,107.55 L160.7,107.48 L161.2,107.50 L161.7,107.09 L162.2,106.51 L162.7,105.90 L163.2,105.48 L163.7,105.43 L164.2,105.79 L164.7,106.38 L165.2,106.23 L165.7,104.87 L166.2,103.41 L166.7,102.49 L167.2,102.60 L167.7,103.68 L168.2,105.12 L168.7,101.59 L169.2,98.21 L169.7,97.82 L170.2,100.81 L170.7,103.78 L171.2,98.97 L171.7,92.80 L172.2,88.02 L172.7,87.34 L173.2,89.91 L173.7,94.32 L174.2,97.49 L174.7,96.94 L175.2,98.19 L175.7,100.67 L176.2,103.38 L176.7,102.57 L177.2,102.48 L177.7,103.26 L178.2,104.56 L178.7,105.88 L179.2,106.88 L179.7,107.46 L180.2,107.74 L180.7,107.85 L181.2,107.84 L181.7,107.55 L182.2,106.91 L182.7,106.50 L183.2,106.91 L183.7,107.55 L184.2,107.84 L184.7,107.89 L185.2,107.90 L185.7,107.90 L186.2,107.90 L186.7,107.90 L187.2,107.90 L187.7,107.90 L188.2,107.90 L188.7,107.90 L189.2,107.90 L189.7,107.88 L190.2,107.82 L190.7,107.66 L191.2,107.45 L191.7,107.35 L192.2,107.47 L192.7,107.68 L193.2,107.83 L193.7,107.89 L194.2,107.90 L194.7,107.90 L195.2,107.90 L195.7,107.90 L196.2,107.90 L196.7,107.90 L197.2,107.90 L197.7,107.90 L198.2,107.90 L198.7,107.90 L199.2,107.90 L199.7,107.90 L200.2,107.90 L200.7,107.90 L201.2,107.88 L201.7,107.81 L202.2,107.67 L202.7,107.58 L203.2,107.65 L203.7,107.79 L204.2,107.87 L204.7,107.89 L205.2,107.87 L205.7,107.79 L206.2,107.65 L206.7,107.52 L207.2,107.51 L207.7,107.63 L208.2,107.77 L208.7,107.86 L209.2,107.88 L209.7,107.82 L210.2,107.70 L210.7,107.55 L211.2,107.49 L211.7,107.57 L212.2,107.72 L212.7,107.84 L213.2,107.88 L213.7,107.90 L214.2,107.90 L214.7,107.90 L215.2,107.90 L215.7,107.88 L216.2,107.82 L216.7,107.61 L217.2,107.20 L217.7,106.69 L218.2,106.43 L218.7,106.65 L219.2,107.15 L219.7,107.59 L220.2,107.81 L220.7,107.88 L221.2,107.90 L221.7,107.90 L222.2,107.90 L222.7,107.90 L223.2,107.90 L223.7,107.90 L224.2,107.90 L224.7,107.90 L225.2,107.90 L225.7,107.90 L226.2,107.90 L226.7,107.90 L227.2,107.90 L227.7,107.90 L228.2,107.90 L228.7,107.90 L229.2,107.89 L229.7,107.78 L230.2,107.54 L230.7,107.47 L231.2,107.70 L231.7,107.86 L232.2,107.90 L232.7,107.90 L233.2,107.90 L233.7,107.90 L234.2,107.90 L234.7,107.90 L235.2,107.90 L235.7,107.90 L236.2,107.90 L236.7,107.90 L237.2,107.90 L237.7,107.90 L238.2,107.90 L238.7,107.90 L239.2,107.90 L239.7,107.90 L240.2,107.90 L240.7,107.90 L241.2,107.84 L241.7,107.50 L242.2,106.93 L242.7,107.08 L243.2,107.66 L243.7,107.88 L244.2,107.90 L244.7,107.90 L245.2,107.90 L245.7,107.90 L246.2,107.90 L246.7,107.90 L247.2,107.90 L247.7,107.90 L248.2,107.90 L248.7,107.90 L249.2,107.87 L249.7,107.72 L250.2,107.27 L250.7,106.72 L251.2,106.71 L251.7,107.25 L252.2,107.71 L252.7,107.87 L253.2,107.90 L253.7,107.90 L254.2,107.90 L254.7,107.90 L255.2,107.89 L255.7,107.84 L256.2,107.70 L256.7,107.40 L257.2,107.01 L257.7,106.78 L258.2,106.89 L258.7,107.25 L259.2,107.60 L259.7,107.80 L260.2,107.88 L260.7,107.90 L261.2,107.90 L261.7,107.90 L262.2,107.90 L262.7,107.90 L263.2,107.87 L263.7,107.74 L264.2,107.53 L264.7,107.56 L265.2,107.77 L265.7,107.88 L266.2,107.90 L266.7,107.90 L267.2,107.90 L267.7,107.90 L268.2,107.90 L268.7,107.88 L269.2,107.77 L269.7,107.59 L270.2,107.67 L270.7,107.85 L271.2,107.90 L271.7,107.89 L272.2,107.87 L272.7,107.82 L273.2,107.60 L273.7,107.30 L274.2,106.65 L274.7,105.60 L275.2,104.26 L275.7,102.94 L276.2,102.06 L276.7,101.97 L277.2,102.71 L277.7,100.49 L278.2,98.15 L278.7,97.90 L279.2,99.92 L279.7,102.94 L280.2,99.91 L280.7,97.38 L281.2,97.12 L281.7,99.29 L282.2,102.55 L282.7,105.31 L283.2,105.25 L283.7,102.69 L284.2,99.29 L284.7,95.92 L285.2,93.90 L285.7,94.14 L286.2,96.53 L286.7,95.07 L287.2,91.03 L287.7,92.90 L288.2,98.87 L288.7,104.22 L289.2,104.83 L289.7,96.41 L290.2,86.43 L290.7,87.87 L291.2,98.57 L291.7,94.95 L292.2,92.48 L292.7,93.59 L293.2,97.56 L293.7,100.57 L294.2,99.90 L294.7,100.57 L295.2,102.25 L295.7,104.24 L296.2,105.91 L296.7,106.99 L297.2,107.55 L297.7,107.79 L298.2,107.65 L298.7,107.24 L299.2,106.54 L299.7,105.71 L300.2,105.16 L300.7,105.22 L301.2,105.87 L301.7,106.70 L302.2,107.35 L302.7,107.70 L303.2,107.84 L303.7,107.89 L304.2,107.90 L304.7,107.90 L305.2,107.90 L305.7,107.90 L306.2,107.90 L306.7,107.90 L307.2,107.89 L307.7,107.81 L308.2,107.49 L308.7,107.33 L309.2,107.65 L309.7,107.87 L310.2,107.90 L310.7,107.90 L311.2,107.90 L311.7,107.90 L312.2,107.90 L312.7,107.90 L313.2,107.90 L313.7,107.90 L314.2,107.90 L314.7,107.90 L315.2,107.90 L315.7,107.90 L316.2,107.90 L316.7,107.90 L317.2,107.90 L317.7,107.86 L318.2,107.52 L318.7,107.15 L319.2,107.58 L319.7,107.86 L320.2,107.79 L320.7,107.68 L321.2,107.60 L321.7,107.61 L322.2,107.55 L322.7,106.81 L323.2,106.86 L323.7,107.59 L324.2,107.87 L324.7,107.90 L325.2,107.90 L325.7,107.90 L326.2,107.90 L326.7,107.90 L327.2,107.90 L327.7,107.90 L328.2,107.90 L328.7,107.90 L329.2,107.90 L329.7,107.90 L330.2,107.90 L330.7,107.90 L331.2,107.90 L331.7,107.90 L332.2,107.90 L332.7,107.90 L333.2,107.90 L333.7,107.90 L334.2,107.90 L334.7,107.90 L335.2,107.90 L335.7,107.90 L336.2,107.90 L336.7,107.87 L337.2,107.77 L337.7,107.59 L338.2,107.46 L338.7,107.54 L339.2,107.73 L339.7,107.85 L340.2,107.78 L340.7,107.59 L341.2,107.59 L341.7,107.78 L342.2,107.88 L342.7,107.90 L343.2,107.90 L343.7,107.90 L344.2,107.90 L344.7,107.90 L345.2,107.90 L345.7,107.90 L346.2,107.90 L346.7,107.88 L347.2,107.78 L347.7,107.50 L348.2,106.99 L348.7,106.50 L349.2,106.45 L349.7,106.88 L350.2,107.41 L350.7,107.73 L351.2,107.60 L351.7,107.41 L352.2,107.13 L352.7,106.77 L353.2,106.35 L353.7,105.90 L354.2,105.47 L354.7,105.13 L355.2,104.93 L355.7,104.91 L356.2,105.08 L356.7,105.39 L357.2,105.81 L357.7,106.26 L358.2,106.62 L358.7,105.40 L359.2,103.44 L359.7,100.60 L360.2,96.94 L360.7,92.81 L361.2,88.84 L361.7,85.82 L362.2,84.44 L362.7,85.12 L363.2,87.84 L363.7,91.87 L364.2,96.29 L364.7,100.27 L365.2,103.35 L365.7,105.44 L366.2,104.87 L366.7,102.97 L367.2,103.90 L367.7,106.28 L368.2,107.57 L368.7,107.87 L369.2,107.90 L369.7,107.90 L370.2,107.90 L370.7,107.88 L371.2,107.76 L371.7,107.40 L372.2,106.99 L372.7,107.06 L373.2,107.50 L373.7,107.81 L374.2,107.89 L374.7,107.90 L375.2,107.89 L375.7,107.83 L376.2,107.71 L376.7,107.60 L377.2,107.65 L377.7,107.79 L378.2,107.58 L378.7,107.43 L379.2,107.58 L379.7,107.80 L380.2,107.53 L380.7,106.86 L381.2,106.32 L381.7,106.59 L382.2,107.31 L382.7,107.76 L383.2,107.88 L383.7,107.90 L384.2,107.90 L384.7,107.90 L385.2,107.90 L385.7,107.90 L386.2,107.90 L386.7,107.90 L387.2,107.90 L387.7,107.90 L388.2,107.90 L388.7,107.90 L389.2,107.90 L389.7,107.90 L390.2,107.90 L390.7,107.90 L391.2,107.90 L391.7,107.90 L392.2,107.90 L392.7,107.90 L393.2,107.90 L393.7,107.90 L394.2,107.90 L394.7,107.90 L395.2,107.89 L395.7,107.84 L396.2,107.66 L396.7,107.31 L397.2,106.97 L397.7,106.98 L398.2,107.33 L398.7,107.67 L399.2,107.84 L399.7,107.89 L400.2,107.90 L400.7,107.89 L401.2,107.80 L401.7,107.58 L402.2,107.54 L402.7,107.76 L403.2,107.88 L403.7,107.90 L404.2,107.90 L404.7,107.90 L405.2,107.90 L405.7,107.88 L406.2,107.71 L406.7,107.16 L407.2,106.63 L407.7,106.92 L408.2,107.56 L408.7,107.85 L409.2,107.86 L409.7,107.59 L410.2,106.97 L410.7,106.70 L411.2,107.23 L411.7,107.74 L412.2,107.88 L412.7,107.90 L413.2,107.89 L413.7,107.82 L414.2,107.65 L414.7,107.47 L415.2,107.51 L415.7,107.62 L416.2,107.37 L416.7,107.17 L417.2,107.18 L417.7,107.38 L418.2,107.63 L418.7,107.80 L419.2,107.84 L419.7,107.48 L420.2,107.02 L420.7,107.35 L421.2,107.80 L421.7,107.89 L422.2,107.90 L422.7,107.90 L423.2,107.90 L423.7,107.90 L424.2,107.90 L424.7,107.90 L425.2,107.90 L425.7,107.90 L426.2,107.90 L426.7,107.89 L427.2,107.83 L427.7,107.65 L428.2,107.30 L428.7,107.02 L429.2,107.09 L429.7,107.43 L430.2,107.55 L430.7,107.21 L431.2,106.91 L431.7,106.87 L432.2,107.12 L432.7,107.48 L433.2,107.73 L433.7,107.85 L434.2,107.89 L434.7,107.90 L435.2,107.90 L435.7,107.90 L436.2,107.90 L436.7,107.90 L437.2,107.90 L437.7,107.90 L438.2,107.90 L438.7,107.90 L439.2,107.90 L439.7,107.90 L440.2,107.90 L440.7,107.90 L441.2,107.89 L441.7,107.82 L442.2,107.59 L442.7,107.11 L443.2,106.63 L443.7,106.63 L444.2,107.11 L444.7,107.59 L445.2,107.83 L445.7,107.89 L446.2,107.90 L446.7,107.90 L447.2,107.90 L447.7,107.90 L448.2,107.90 L448.7,107.90 L449.2,107.90 L449.7,107.90 L450.2,107.90 L450.7,107.90 L451.2,107.90 L451.7,107.90 L452.2,107.89 L452.7,107.84 L453.2,107.69 L453.7,107.37 L454.2,107.02 L454.7,106.94 L455.2,107.20 L455.7,107.57 L456.2,107.79 L456.7,107.86 L457.2,107.77 L457.7,107.62 L458.2,107.46 L458.7,107.41 L459.2,107.52 L459.7,107.70 L460.2,107.82 L460.7,107.88 L461.2,107.90 L461.7,107.90 L462.2,107.90 L462.7,107.90 L463.2,107.90 L463.7,107.90 L464.2,107.90 L464.7,107.90 L465.2,107.90 L465.7,107.90 L466.2,107.90 L466.7,107.90 L467.2,107.90 L467.7,107.90 L468.2,107.90 L468.7,107.90 L469.2,107.90 L469.7,107.84 L470.2,107.62 L470.7,107.52 L471.2,107.75 L471.7,107.88 L472.2,107.90 L472.7,107.90 L473.2,107.86 L473.7,107.75 L474.2,107.59 L474.7,107.57 L475.2,107.72 L475.7,107.85 L476.2,107.89 L476.7,107.90 L477.2,107.90 L477.7,107.90 L478.2,107.90 L478.7,107.90 L479.2,107.90 L479.7,107.90 L480.2,107.90 L480.7,107.90 L481.2,107.90 L481.7,107.90 L482.2,107.90 L482.7,107.89 L483.2,107.85 L483.7,107.76 L484.2,107.62 L484.7,107.52 L485.2,107.56 L485.7,107.70 L486.2,107.82 L486.7,107.88 L487.2,107.90 L487.7,107.90 L488.2,107.90 L488.7,107.90 L489.2,107.90 L489.7,107.90 L490.2,107.90 L490.7,107.90 L491.2,107.90 L491.7,107.90 L492.2,107.90 L492.7,107.90 L493.2,107.90 L493.7,107.90 L494.2,107.90 L494.7,107.90 L495.2,107.90 L495.7,107.90 L496.2,107.90 L496.7,107.90 L497.2,107.90 L497.7,107.90 L498.2,107.90 L498.7,107.90 L499.2,107.90 L499.7,107.90 L500.2,107.88 L500.7,107.80 L501.2,107.54 L501.7,107.12 L502.2,106.82 L502.7,106.97 L503.2,107.40 L503.7,107.73 L504.2,107.86 L504.7,107.90 L505.0,107.90 Z" fill="#626262"/>
<line x1="62.20" y1="108.10" x2="505.00" y2="108.10" stroke="#b0b0b0" stroke-width="0.5" />
<rect x="62.20" y="110.90" width="442.80" height="3.00" fill="#c4c4c4" />
<rect x="62.20" y="113.90" width="442.80" height="4.60" fill="#f9f9f9" />
<text x="19.90" y="53.60" font-size="9.57" stroke="#1a1a1a" stroke-width="0.1" textLength="28.00" lengthAdjust="spacingAndGlyphs" >RUNX1</text>
<text x="19.90" y="79.30" font-size="9.57" stroke="#1a1a1a" stroke-width="0.1" textLength="36.10" lengthAdjust="spacingAndGlyphs" >H3K27ac</text>
<text x="19.90" y="105.20" font-size="9.57" stroke="#1a1a1a" stroke-width="0.1" textLength="39.20" lengthAdjust="spacingAndGlyphs" >H3K4me3</text>
<line x1="433.30" y1="40.60" x2="496.80" y2="40.60" stroke="#111" stroke-width="1.3" />
<text x="455.10" y="36.90" font-size="8.32" stroke="#1a1a1a" stroke-width="0.1" textLength="20.00" lengthAdjust="spacingAndGlyphs" >10 kb</text>
<line x1="62.80" y1="116.30" x2="104.00" y2="116.30" stroke="#1f2a88" stroke-width="0.7" />
<rect x="71.70" y="114.90" width="11.30" height="2.80" fill="#1f2a88" />
<rect x="83.00" y="115.40" width="21.00" height="1.80" fill="#1f2a88" />
<line x1="154.20" y1="116.00" x2="268.80" y2="116.00" stroke="#1f2a88" stroke-width="0.7" />
<path d="M157.40,115.10 L158.20,116.00 L157.40,116.90" fill="none" stroke="#1f2a88" stroke-width="0.5"/>
<path d="M165.40,115.10 L166.20,116.00 L165.40,116.90" fill="none" stroke="#1f2a88" stroke-width="0.5"/>
<path d="M173.40,115.10 L174.20,116.00 L173.40,116.90" fill="none" stroke="#1f2a88" stroke-width="0.5"/>
<path d="M189.40,115.10 L190.20,116.00 L189.40,116.90" fill="none" stroke="#1f2a88" stroke-width="0.5"/>
<path d="M197.40,115.10 L198.20,116.00 L197.40,116.90" fill="none" stroke="#1f2a88" stroke-width="0.5"/>
<path d="M205.40,115.10 L206.20,116.00 L205.40,116.90" fill="none" stroke="#1f2a88" stroke-width="0.5"/>
<path d="M213.40,115.10 L214.20,116.00 L213.40,116.90" fill="none" stroke="#1f2a88" stroke-width="0.5"/>
<path d="M221.40,115.10 L222.20,116.00 L221.40,116.90" fill="none" stroke="#1f2a88" stroke-width="0.5"/>
<path d="M237.40,115.10 L238.20,116.00 L237.40,116.90" fill="none" stroke="#1f2a88" stroke-width="0.5"/>
<rect x="154.20" y="115.20" width="1.00" height="1.60" fill="#1f2a88" />
<rect x="168.30" y="115.20" width="1.00" height="1.60" fill="#1f2a88" />
<rect x="180.70" y="114.90" width="1.30" height="2.20" fill="#1f2a88" />
<rect x="225.30" y="114.80" width="1.20" height="2.40" fill="#1f2a88" />
<rect x="229.20" y="114.80" width="1.10" height="2.40" fill="#1f2a88" />
<rect x="232.20" y="114.80" width="1.10" height="2.40" fill="#1f2a88" />
<rect x="240.80" y="114.60" width="5.20" height="2.80" fill="#1f2a88" />
<rect x="246.00" y="115.10" width="22.80" height="1.80" fill="#1f2a88" />
<line x1="285.00" y1="116.20" x2="298.30" y2="116.20" stroke="#1f2a88" stroke-width="0.7" />
<rect x="285.00" y="115.30" width="2.00" height="1.80" fill="#1f2a88" />
<rect x="289.50" y="114.80" width="8.80" height="2.80" fill="#1f2a88" />
<line x1="339.50" y1="116.00" x2="364.50" y2="116.00" stroke="#1f2a88" stroke-width="0.7" />
<path d="M349.80,115.10 L349.00,116.00 L349.80,116.90" fill="none" stroke="#1f2a88" stroke-width="0.5"/>
<path d="M355.30,115.10 L354.50,116.00 L355.30,116.90" fill="none" stroke="#1f2a88" stroke-width="0.5"/>
<path d="M360.80,115.10 L360.00,116.00 L360.80,116.90" fill="none" stroke="#1f2a88" stroke-width="0.5"/>
<rect x="339.50" y="114.80" width="3.00" height="2.40" fill="#1f2a88" />
<rect x="344.00" y="115.20" width="1.00" height="1.60" fill="#1f2a88" />
<rect x="363.30" y="115.00" width="1.20" height="2.00" fill="#1f2a88" />
<line x1="62.50" y1="124.50" x2="96.44" y2="124.50" stroke="#111" stroke-width="1.4" />
<path d="M101.00,124.50 L93.40,121.20 L95.53,124.50 L93.40,127.80 Z" fill="#111"/>
<line x1="154.90" y1="124.50" x2="261.94" y2="124.50" stroke="#111" stroke-width="1.4" />
<path d="M266.50,124.50 L258.90,121.20 L261.03,124.50 L258.90,127.80 Z" fill="#111"/>
<line x1="285.00" y1="124.60" x2="292.24" y2="124.60" stroke="#111" stroke-width="1.4" />
<path d="M296.80,124.60 L289.20,121.30 L291.33,124.60 L289.20,127.90 Z" fill="#111"/>
<line x1="364.50" y1="124.60" x2="346.36" y2="124.60" stroke="#111" stroke-width="1.4" />
<path d="M341.80,124.60 L349.40,121.30 L347.27,124.60 L349.40,127.90 Z" fill="#111"/>
<text x="63.00" y="137.00" font-size="9.15" font-style="italic" stroke="#1a1a1a" stroke-width="0.1" textLength="30.20" lengthAdjust="spacingAndGlyphs" >MGAT3</text>
<text x="198.50" y="136.60" font-size="9.15" font-style="italic" stroke="#1a1a1a" stroke-width="0.1" textLength="24.30" lengthAdjust="spacingAndGlyphs" >MIEF1</text>
<text x="282.50" y="136.80" font-size="9.15" font-style="italic" stroke="#1a1a1a" stroke-width="0.1" textLength="20.00" lengthAdjust="spacingAndGlyphs" >ATF4</text>
<text x="332.50" y="136.80" font-size="9.15" font-style="italic" stroke="#1a1a1a" stroke-width="0.1" textLength="41.20" lengthAdjust="spacingAndGlyphs" >RPS19BP1</text>
<rect x="279.6" y="28.4" width="8.6" height="81.2" fill="none" stroke="#111" stroke-width="1.1"/>
<text x="51.75" y="158.00" font-size="9.78" stroke="#1a1a1a" stroke-width="0.1" textLength="319.50" lengthAdjust="spacingAndGlyphs" >Mouse EML hematopoietic precursor cell ChIP-seq (Wu JQ, Plos Genetics 2012)</text>
<rect x="62.20" y="163.60" width="442.80" height="25.90" fill="#f9f9f9" />
<path d="M62.2,188.70 L62.2,188.04 L62.7,187.60 L63.2,187.40 L63.7,187.60 L64.2,188.04 L64.7,187.93 L65.2,187.30 L65.7,187.80 L66.2,188.49 L66.7,187.92 L67.2,186.54 L67.7,186.97 L68.2,187.55 L68.7,186.64 L69.2,186.33 L69.7,186.96 L70.2,187.88 L70.7,188.46 L71.2,188.65 L71.7,188.69 L72.2,188.60 L72.7,188.04 L73.2,187.24 L73.7,187.60 L74.2,188.42 L74.7,188.40 L75.2,188.42 L75.7,187.97 L76.2,187.71 L76.7,188.01 L77.2,188.44 L77.7,188.40 L78.2,187.79 L78.7,187.16 L79.2,187.26 L79.7,187.95 L80.2,188.44 L80.7,188.26 L81.2,188.16 L81.7,188.21 L82.2,188.37 L82.7,188.54 L83.2,188.64 L83.7,188.69 L84.2,188.70 L84.7,188.70 L85.2,188.69 L85.7,188.63 L86.2,188.42 L86.7,188.23 L87.2,188.36 L87.7,188.60 L88.2,188.69 L88.7,188.70 L89.2,188.70 L89.7,188.70 L90.2,188.70 L90.7,188.70 L91.2,188.70 L91.7,188.70 L92.2,188.69 L92.7,188.66 L93.2,188.02 L93.7,184.38 L94.2,180.70 L94.7,184.38 L95.2,188.02 L95.7,188.37 L96.2,187.26 L96.7,185.61 L97.2,185.39 L97.7,186.93 L98.2,187.31 L98.7,187.15 L99.2,187.55 L99.7,186.52 L100.2,183.35 L100.7,183.86 L101.2,187.09 L101.7,187.26 L102.2,185.61 L102.7,185.39 L103.2,186.93 L103.7,188.23 L104.2,188.64 L104.7,188.56 L105.2,188.09 L105.7,187.76 L106.2,188.18 L106.7,188.60 L107.2,188.53 L107.7,187.76 L108.2,187.08 L108.7,187.85 L109.2,188.40 L109.7,188.23 L110.2,188.17 L110.7,188.27 L111.2,188.44 L111.7,188.42 L112.2,187.26 L112.7,185.94 L113.2,186.71 L113.7,188.16 L114.2,188.65 L114.7,188.70 L115.2,188.70 L115.7,188.60 L116.2,187.86 L116.7,186.00 L117.2,185.43 L117.7,187.20 L118.2,188.44 L118.7,188.68 L119.2,188.70 L119.7,188.64 L120.2,188.45 L120.7,188.41 L121.2,188.61 L121.7,188.41 L122.2,187.77 L122.7,187.25 L123.2,187.61 L123.7,188.31 L124.2,188.63 L124.7,188.69 L125.2,188.69 L125.7,188.52 L126.2,187.55 L126.7,186.11 L127.2,186.64 L127.7,188.12 L128.2,188.64 L128.7,188.70 L129.2,188.67 L129.7,188.60 L130.2,188.46 L130.7,188.31 L131.2,188.30 L131.7,188.43 L132.2,188.27 L132.7,187.52 L133.2,186.41 L133.7,185.59 L134.2,185.74 L134.7,186.72 L135.2,187.77 L135.7,188.39 L136.2,188.37 L136.7,188.55 L137.2,188.68 L137.7,188.64 L138.2,188.26 L138.7,187.29 L139.2,186.85 L139.7,187.71 L140.2,188.48 L140.7,188.65 L141.2,188.42 L141.7,188.13 L142.2,188.30 L142.7,188.60 L143.2,188.57 L143.7,188.38 L144.2,188.24 L144.7,188.31 L145.2,188.51 L145.7,188.53 L146.2,188.35 L146.7,188.19 L147.2,188.16 L147.7,187.16 L148.2,185.03 L148.7,183.45 L149.2,184.20 L149.7,186.38 L150.2,186.88 L150.7,185.51 L151.2,185.34 L151.7,186.10 L152.2,186.95 L152.7,187.84 L153.2,187.93 L153.7,187.31 L154.2,186.97 L154.7,185.95 L155.2,185.89 L155.7,186.86 L156.2,187.92 L156.7,188.43 L157.2,187.83 L157.7,187.19 L158.2,187.27 L158.7,187.96 L159.2,188.49 L159.7,187.81 L160.2,185.63 L160.7,185.85 L161.2,187.98 L161.7,188.65 L162.2,188.70 L162.7,188.70 L163.2,188.70 L163.7,188.61 L164.2,188.00 L164.7,186.61 L165.2,186.39 L165.7,187.76 L166.2,188.56 L166.7,188.69 L167.2,188.70 L167.7,188.70 L168.2,188.68 L168.7,188.60 L169.2,188.35 L169.7,187.85 L170.2,187.23 L170.7,186.90 L171.2,187.15 L171.7,187.75 L172.2,188.03 L172.7,187.27 L173.2,186.56 L173.7,186.47 L174.2,186.34 L174.7,187.43 L175.2,188.13 L175.7,187.93 L176.2,188.09 L176.7,188.17 L177.2,187.66 L177.7,187.20 L178.2,187.12 L178.7,187.48 L179.2,188.01 L179.7,188.41 L180.2,188.61 L180.7,188.68 L181.2,188.70 L181.7,188.70 L182.2,188.70 L182.7,188.70 L183.2,188.70 L183.7,188.66 L184.2,188.13 L184.7,186.57 L185.2,186.50 L185.7,188.07 L186.2,188.52 L186.7,188.05 L187.2,187.41 L187.7,187.31 L188.2,187.88 L188.7,187.79 L189.2,187.62 L189.7,187.92 L190.2,188.36 L190.7,188.61 L191.2,188.59 L191.7,188.44 L192.2,188.42 L192.7,188.57 L193.2,188.56 L193.7,188.42 L194.2,188.32 L194.7,188.33 L195.2,188.45 L195.7,188.27 L196.2,187.07 L196.7,185.90 L197.2,186.52 L197.7,187.92 L198.2,188.28 L198.7,187.96 L199.2,187.81 L199.7,187.97 L200.2,188.29 L200.7,188.55 L201.2,188.66 L201.7,188.69 L202.2,188.70 L202.7,188.68 L203.2,188.52 L203.7,188.15 L204.2,188.18 L204.7,188.54 L205.2,188.68 L205.7,188.70 L206.2,188.70 L206.7,188.70 L207.2,188.70 L207.7,188.60 L208.2,187.87 L208.7,186.19 L209.2,185.93 L209.7,187.57 L210.2,188.53 L210.7,188.58 L211.2,188.40 L211.7,188.31 L212.2,188.43 L212.7,188.15 L213.2,187.87 L213.7,187.95 L214.2,187.74 L214.7,186.90 L215.2,186.25 L215.7,186.26 L216.2,186.92 L216.7,187.76 L217.2,188.33 L217.7,188.41 L218.2,188.50 L218.7,188.60 L219.2,188.67 L219.7,188.68 L220.2,188.29 L220.7,186.82 L221.2,186.76 L221.7,188.25 L222.2,188.41 L222.7,188.42 L223.2,188.51 L223.7,188.42 L224.2,188.40 L224.7,188.28 L225.2,187.73 L225.7,187.17 L226.2,187.07 L226.7,187.51 L227.2,187.81 L227.7,186.03 L228.2,185.75 L228.7,187.50 L229.2,188.30 L229.7,188.11 L230.2,187.76 L230.7,187.73 L231.2,188.05 L231.7,188.07 L232.2,188.04 L232.7,188.26 L233.2,188.09 L233.7,187.09 L234.2,186.59 L234.7,187.33 L235.2,188.26 L235.7,188.63 L236.2,188.69 L236.7,188.70 L237.2,188.70 L237.7,188.70 L238.2,188.70 L238.7,188.68 L239.2,188.57 L239.7,188.29 L240.2,187.90 L240.7,187.75 L241.2,188.01 L241.7,188.39 L242.2,188.27 L242.7,187.82 L243.2,187.43 L243.7,187.42 L244.2,187.79 L244.7,188.25 L245.2,188.54 L245.7,188.66 L246.2,188.68 L246.7,188.63 L247.2,188.49 L247.7,188.33 L248.2,188.27 L248.7,188.37 L249.2,188.54 L249.7,188.52 L250.2,187.75 L250.7,186.80 L251.2,187.27 L251.7,188.29 L252.2,188.66 L252.7,188.70 L253.2,188.70 L253.7,188.70 L254.2,188.70 L254.7,188.69 L255.2,188.59 L255.7,188.04 L256.2,186.89 L256.7,186.45 L257.2,187.45 L257.7,188.38 L258.2,188.66 L258.7,188.70 L259.2,188.69 L259.7,188.63 L260.2,188.43 L260.7,188.04 L261.2,187.78 L261.7,187.96 L262.2,188.36 L262.7,188.59 L263.2,188.48 L263.7,188.40 L264.2,188.43 L264.7,188.53 L265.2,188.63 L265.7,188.41 L266.2,187.28 L266.7,186.43 L267.2,187.52 L267.7,186.98 L268.2,186.74 L268.7,187.16 L269.2,187.86 L269.7,188.39 L270.2,188.62 L270.7,188.69 L271.2,188.70 L271.7,188.70 L272.2,188.70 L272.7,188.63 L273.2,188.31 L273.7,187.69 L274.2,187.59 L274.7,188.17 L275.2,188.38 L275.7,187.99 L276.2,187.61 L276.7,187.56 L277.2,187.87 L277.7,188.28 L278.2,188.08 L278.7,187.94 L279.2,188.05 L279.7,188.32 L280.2,187.89 L280.7,187.06 L281.2,186.29 L281.7,186.13 L282.2,186.71 L282.7,184.83 L283.2,182.16 L283.7,180.10 L284.2,179.88 L284.7,181.66 L285.2,183.81 L285.7,177.60 L286.2,171.64 L286.7,170.76 L287.2,174.38 L287.7,179.79 L288.2,181.45 L288.7,180.75 L289.2,182.29 L289.7,184.91 L290.2,187.05 L290.7,188.17 L291.2,188.58 L291.7,188.68 L292.2,188.70 L292.7,188.70 L293.2,188.70 L293.7,188.64 L294.2,188.28 L294.7,187.72 L295.2,187.30 L295.7,185.70 L296.2,185.48 L296.7,186.98 L297.2,188.24 L297.7,188.64 L298.2,188.69 L298.7,188.59 L299.2,188.27 L299.7,188.09 L300.2,188.39 L300.7,188.36 L301.2,187.22 L301.7,185.52 L302.2,185.29 L302.7,186.88 L303.2,188.21 L303.7,188.37 L304.2,187.26 L304.7,185.61 L305.2,185.39 L305.7,186.93 L306.2,187.30 L306.7,187.50 L307.2,188.40 L307.7,188.62 L308.2,188.24 L308.7,187.65 L309.2,187.74 L309.7,188.30 L310.2,187.87 L310.7,187.87 L311.2,188.29 L311.7,188.56 L312.2,188.35 L312.7,188.38 L313.2,188.49 L313.7,188.16 L314.2,187.73 L314.7,187.51 L315.2,187.68 L315.7,188.09 L316.2,188.45 L316.7,188.63 L317.2,188.69 L317.7,188.70 L318.2,188.70 L318.7,188.70 L319.2,188.70 L319.7,188.70 L320.2,188.66 L320.7,188.37 L321.2,187.30 L321.7,185.70 L322.2,185.48 L322.7,186.44 L323.2,185.76 L323.7,187.24 L324.2,188.43 L324.7,188.68 L325.2,188.70 L325.7,188.69 L326.2,188.61 L326.7,188.11 L327.2,187.05 L327.7,186.82 L328.2,187.82 L328.7,188.53 L329.2,188.69 L329.7,188.70 L330.2,188.70 L330.7,188.69 L331.2,188.65 L331.7,188.05 L332.2,186.94 L332.7,187.43 L333.2,186.44 L333.7,185.79 L334.2,185.98 L334.7,186.85 L335.2,186.57 L335.7,187.01 L336.2,187.96 L336.7,188.52 L337.2,188.52 L337.7,188.38 L338.2,188.08 L338.7,187.63 L339.2,187.63 L339.7,188.07 L340.2,188.28 L340.7,188.29 L341.2,188.43 L341.7,188.57 L342.2,188.49 L342.7,186.95 L343.2,183.44 L343.7,182.88 L344.2,186.34 L344.7,185.53 L345.2,186.17 L345.7,187.62 L346.2,188.45 L346.7,188.09 L347.2,187.73 L347.7,187.84 L348.2,188.27 L348.7,188.49 L349.2,188.40 L349.7,188.43 L350.2,188.55 L350.7,188.49 L351.2,188.17 L351.7,187.83 L352.2,187.76 L352.7,188.03 L353.2,188.39 L353.7,188.06 L354.2,186.83 L354.7,185.42 L355.2,185.24 L355.7,186.52 L356.2,187.87 L356.7,188.51 L357.2,188.67 L357.7,188.70 L358.2,188.70 L358.7,188.68 L359.2,188.59 L359.7,188.34 L360.2,188.00 L360.7,187.89 L361.2,188.14 L361.7,188.46 L362.2,188.64 L362.7,188.69 L363.2,188.64 L363.7,188.40 L364.2,187.73 L364.7,186.63 L365.2,185.81 L365.7,186.04 L366.2,187.09 L366.7,188.06 L367.2,188.53 L367.7,188.67 L368.2,188.66 L368.7,188.34 L369.2,187.14 L369.7,185.35 L370.2,185.11 L370.7,186.78 L371.2,188.19 L371.7,187.68 L372.2,186.87 L372.7,186.52 L373.2,186.98 L373.7,187.79 L374.2,188.38 L374.7,188.63 L375.2,188.49 L375.7,187.84 L376.2,187.91 L376.7,188.51 L377.2,187.85 L377.7,187.17 L378.2,187.63 L378.7,188.41 L379.2,188.61 L379.7,188.42 L380.2,188.16 L380.7,188.04 L381.2,188.19 L381.7,188.37 L382.2,188.11 L382.7,187.93 L383.2,187.96 L383.7,188.18 L384.2,188.43 L384.7,188.60 L385.2,188.67 L385.7,188.69 L386.2,188.70 L386.7,188.70 L387.2,188.70 L387.7,188.62 L388.2,188.15 L388.7,187.07 L389.2,186.73 L389.7,187.73 L390.2,188.51 L390.7,188.32 L391.2,188.02 L391.7,186.88 L392.2,185.86 L392.7,186.14 L393.2,187.37 L393.7,188.30 L394.2,188.63 L394.7,188.69 L395.2,188.70 L395.7,188.70 L396.2,188.70 L396.7,188.70 L397.2,188.70 L397.7,188.70 L398.2,188.70 L398.7,188.70 L399.2,188.66 L399.7,188.11 L400.2,186.74 L400.7,187.10 L401.2,188.38 L401.7,188.68 L402.2,188.60 L402.7,188.17 L403.2,187.70 L403.7,188.04 L404.2,188.55 L404.7,188.46 L405.2,188.39 L405.7,188.41 L406.2,188.46 L406.7,187.85 L407.2,187.28 L407.7,187.56 L408.2,188.26 L408.7,187.60 L409.2,187.47 L409.7,186.49 L410.2,186.34 L410.7,187.43 L411.2,188.36 L411.7,188.29 L412.2,187.39 L412.7,186.60 L413.2,187.05 L413.7,188.06 L414.2,188.58 L414.7,188.69 L415.2,188.70 L415.7,188.70 L416.2,188.70 L416.7,188.70 L417.2,188.70 L417.7,188.69 L418.2,188.60 L418.7,188.09 L419.2,186.85 L419.7,185.81 L420.2,186.37 L420.7,186.49 L421.2,186.34 L421.7,187.43 L422.2,187.95 L422.7,186.88 L423.2,185.81 L423.7,185.72 L424.2,186.70 L424.7,187.83 L425.2,188.45 L425.7,188.65 L426.2,188.69 L426.7,188.66 L427.2,188.57 L427.7,188.43 L428.2,188.36 L428.7,188.43 L429.2,188.57 L429.7,188.47 L430.2,188.39 L430.7,188.14 L431.2,187.36 L431.7,186.98 L432.2,187.54 L432.7,188.06 L433.2,187.85 L433.7,187.94 L434.2,188.24 L434.7,188.52 L435.2,188.65 L435.7,188.69 L436.2,188.70 L436.7,188.70 L437.2,188.69 L437.7,188.66 L438.2,188.49 L438.7,187.98 L439.2,187.02 L439.7,186.07 L440.2,185.94 L440.7,186.75 L441.2,187.77 L441.7,188.33 L442.2,188.17 L442.7,188.22 L443.2,188.36 L443.7,187.84 L444.2,187.28 L444.7,185.70 L445.2,185.48 L445.7,185.68 L446.2,185.36 L446.7,186.07 L447.2,187.23 L447.7,188.11 L448.2,188.53 L448.7,188.41 L449.2,188.44 L449.7,188.60 L450.2,188.49 L450.7,188.37 L451.2,188.08 L451.7,187.33 L452.2,186.94 L452.7,187.40 L453.2,188.14 L453.7,188.42 L454.2,187.85 L454.7,187.74 L455.2,188.29 L455.7,188.64 L456.2,188.70 L456.7,188.69 L457.2,188.67 L457.7,188.61 L458.2,188.50 L458.7,188.38 L459.2,188.36 L459.7,188.45 L460.2,188.58 L460.7,188.66 L461.2,188.65 L461.7,188.55 L462.2,188.37 L462.7,188.21 L463.2,188.21 L463.7,188.21 L464.2,186.80 L464.7,185.34 L465.2,186.01 L465.7,187.72 L466.2,188.54 L466.7,188.69 L467.2,188.70 L467.7,188.70 L468.2,188.70 L468.7,188.67 L469.2,188.45 L469.7,188.01 L470.2,188.15 L470.7,188.58 L471.2,188.66 L471.7,188.57 L472.2,188.44 L472.7,188.38 L473.2,188.47 L473.7,188.44 L474.2,188.22 L474.7,188.12 L475.2,188.22 L475.7,187.44 L476.2,187.11 L476.7,188.15 L477.2,188.65 L477.7,188.70 L478.2,188.70 L478.7,188.69 L479.2,188.63 L479.7,188.46 L480.2,188.34 L480.7,188.44 L481.2,188.61 L481.7,188.57 L482.2,188.43 L482.7,188.36 L483.2,188.41 L483.7,188.55 L484.2,188.65 L484.7,188.69 L485.2,188.70 L485.7,188.70 L486.2,188.70 L486.7,188.70 L487.2,188.70 L487.7,188.70 L488.2,188.70 L488.7,188.70 L489.2,188.68 L489.7,188.63 L490.2,188.48 L490.7,188.23 L491.2,187.97 L491.7,187.90 L492.2,188.06 L492.7,188.34 L493.2,188.55 L493.7,188.36 L494.2,188.03 L494.7,188.07 L495.2,188.42 L495.7,188.29 L496.2,187.93 L496.7,188.17 L497.2,188.57 L497.7,188.69 L498.2,188.70 L498.7,188.70 L499.2,188.70 L499.7,188.70 L500.2,188.69 L500.7,188.62 L501.2,188.40 L501.7,187.88 L502.2,187.13 L502.7,186.60 L503.2,186.73 L503.7,187.40 L504.2,188.10 L504.7,188.50 L505.0,188.70 Z" fill="#26328e"/>
<line x1="62.20" y1="188.90" x2="505.00" y2="188.90" stroke="#26328e" stroke-width="0.6" />
<rect x="62.20" y="191.50" width="442.80" height="23.90" fill="#f9f9f9" />
<path d="M62.2,214.60 L62.2,213.92 L62.7,213.23 L63.2,212.87 L63.7,213.23 L64.2,213.92 L64.7,213.84 L65.2,214.14 L65.7,214.48 L66.2,214.21 L66.7,213.61 L67.2,213.13 L67.7,213.33 L68.2,213.96 L68.7,214.41 L69.2,214.06 L69.7,213.66 L70.2,214.05 L70.7,214.49 L71.2,214.58 L71.7,214.20 L72.2,212.73 L72.7,212.26 L73.2,213.81 L73.7,214.35 L74.2,214.06 L74.7,213.80 L75.2,213.66 L75.7,212.33 L76.2,211.54 L76.7,212.30 L77.2,213.63 L77.7,214.37 L78.2,214.57 L78.7,214.60 L79.2,214.58 L79.7,214.37 L80.2,213.85 L80.7,213.81 L81.2,214.33 L81.7,214.30 L82.2,214.21 L82.7,213.64 L83.2,212.45 L83.7,212.20 L84.2,213.26 L84.7,214.16 L85.2,213.66 L85.7,212.89 L86.2,211.78 L86.7,211.21 L87.2,211.64 L87.7,212.71 L88.2,213.73 L88.7,213.98 L89.2,213.87 L89.7,214.05 L90.2,214.34 L90.7,214.43 L91.2,214.20 L91.7,214.13 L92.2,214.34 L92.7,214.53 L93.2,213.73 L93.7,209.04 L94.2,204.30 L94.7,209.04 L95.2,212.94 L95.7,212.08 L96.2,212.54 L96.7,210.19 L97.2,209.87 L97.7,212.07 L98.2,213.81 L98.7,214.24 L99.2,214.17 L99.7,211.75 L100.2,207.58 L100.7,208.25 L101.2,212.49 L101.7,212.34 L102.2,209.75 L102.7,209.40 L103.2,211.82 L103.7,213.86 L104.2,214.50 L104.7,214.10 L105.2,213.62 L105.7,213.89 L106.2,213.06 L106.7,211.60 L107.2,211.43 L107.7,212.78 L108.2,214.03 L108.7,214.25 L109.2,213.14 L109.7,211.69 L110.2,211.83 L110.7,213.34 L111.2,212.12 L111.7,212.06 L112.2,214.04 L112.7,214.57 L113.2,214.60 L113.7,214.60 L114.2,214.54 L114.7,214.35 L115.2,214.35 L115.7,214.54 L116.2,214.60 L116.7,214.60 L117.2,214.60 L117.7,214.60 L118.2,214.60 L118.7,214.59 L119.2,214.55 L119.7,214.42 L120.2,214.30 L120.7,214.38 L121.2,214.52 L121.7,214.59 L122.2,214.60 L122.7,214.60 L123.2,214.59 L123.7,214.53 L124.2,214.27 L124.7,213.74 L125.2,213.38 L125.7,213.67 L126.2,213.71 L126.7,212.66 L127.2,211.63 L127.7,211.38 L128.2,212.14 L128.7,212.33 L129.2,211.88 L129.7,213.22 L130.2,214.30 L130.7,214.13 L131.2,213.45 L131.7,212.81 L132.2,212.80 L132.7,213.44 L133.2,214.12 L133.7,214.10 L134.2,214.25 L134.7,214.29 L135.2,213.35 L135.7,212.01 L136.2,211.87 L136.7,213.13 L137.2,211.75 L137.7,211.16 L138.2,212.18 L138.7,213.61 L139.2,214.36 L139.7,214.57 L140.2,214.60 L140.7,214.60 L141.2,214.60 L141.7,214.60 L142.2,214.59 L142.7,214.52 L143.2,214.24 L143.7,213.52 L144.2,212.43 L144.7,211.66 L145.2,211.93 L145.7,212.96 L146.2,213.92 L146.7,213.94 L147.2,213.86 L147.7,213.29 L148.2,211.48 L148.7,210.15 L149.2,210.78 L149.7,212.63 L150.2,213.16 L150.7,211.51 L151.2,211.29 L151.7,212.83 L152.2,214.13 L152.7,214.54 L153.2,214.53 L153.7,214.14 L154.2,213.11 L154.7,212.26 L155.2,212.81 L155.7,213.93 L156.2,213.98 L156.7,214.09 L157.2,213.53 L157.7,212.31 L158.2,212.14 L158.7,213.07 L159.2,213.95 L159.7,214.49 L160.2,214.13 L160.7,213.79 L161.2,214.04 L161.7,214.38 L162.2,213.49 L162.7,212.75 L163.2,213.54 L163.7,212.87 L164.2,212.74 L164.7,213.28 L165.2,213.97 L165.7,214.40 L166.2,214.56 L166.7,214.56 L167.2,214.36 L167.7,213.90 L168.2,213.52 L168.7,213.73 L169.2,214.23 L169.7,213.93 L170.2,214.09 L170.7,214.44 L171.2,214.58 L171.7,214.55 L172.2,214.33 L172.7,214.06 L173.2,214.19 L173.7,213.84 L174.2,212.55 L174.7,211.54 L175.2,212.07 L175.7,213.44 L176.2,214.26 L176.7,213.85 L177.2,213.59 L177.7,213.78 L178.2,214.20 L178.7,214.29 L179.2,213.95 L179.7,213.65 L180.2,213.64 L180.7,213.93 L181.2,214.27 L181.7,214.01 L182.2,213.54 L182.7,213.35 L183.2,213.61 L183.7,213.52 L184.2,213.00 L184.7,212.87 L185.2,213.24 L185.7,213.82 L186.2,214.06 L186.7,213.90 L187.2,214.00 L187.7,214.26 L188.2,214.00 L188.7,213.90 L189.2,214.19 L189.7,213.51 L190.2,213.42 L190.7,214.08 L191.2,214.51 L191.7,214.59 L192.2,214.60 L192.7,214.57 L193.2,214.46 L193.7,214.09 L194.2,213.32 L194.7,211.95 L195.2,211.76 L195.7,212.13 L196.2,213.06 L196.7,213.08 L197.2,212.97 L197.7,213.40 L198.2,213.98 L198.7,214.38 L199.2,214.55 L199.7,214.58 L200.2,214.49 L200.7,214.27 L201.2,214.08 L201.7,214.18 L202.2,214.20 L202.7,213.90 L203.2,213.77 L203.7,213.94 L204.2,214.15 L204.7,214.09 L205.2,214.17 L205.7,213.52 L206.2,212.61 L206.7,212.02 L207.2,212.26 L207.7,213.12 L208.2,213.94 L208.7,213.85 L209.2,212.79 L209.7,212.39 L210.2,212.24 L210.7,213.33 L211.2,214.26 L211.7,214.55 L212.2,214.59 L212.7,214.38 L213.2,212.97 L213.7,211.78 L214.2,213.48 L214.7,214.46 L215.2,214.23 L215.7,214.28 L216.2,214.50 L216.7,214.58 L217.2,214.44 L217.7,214.21 L218.2,214.26 L218.7,214.50 L219.2,214.59 L219.7,214.59 L220.2,214.54 L220.7,214.26 L221.2,213.59 L221.7,212.86 L222.2,212.89 L222.7,213.64 L223.2,213.49 L223.7,212.98 L224.2,212.99 L224.7,213.51 L225.2,214.10 L225.7,213.69 L226.2,213.60 L226.7,213.92 L227.2,213.88 L227.7,213.48 L228.2,213.48 L228.7,213.88 L229.2,214.30 L229.7,214.52 L230.2,214.59 L230.7,214.60 L231.2,214.60 L231.7,214.60 L232.2,214.60 L232.7,214.60 L233.2,214.60 L233.7,214.60 L234.2,214.60 L234.7,214.58 L235.2,214.49 L235.7,214.23 L236.2,213.89 L236.7,213.76 L237.2,214.01 L237.7,214.35 L238.2,214.53 L238.7,214.59 L239.2,214.60 L239.7,214.56 L240.2,214.37 L240.7,214.27 L241.2,214.44 L241.7,214.14 L242.2,214.19 L242.7,214.00 L243.2,213.12 L243.7,211.99 L244.2,211.26 L244.7,211.50 L245.2,212.52 L245.7,213.59 L246.2,214.24 L246.7,214.34 L247.2,213.51 L247.7,212.10 L248.2,211.49 L248.7,212.51 L249.2,213.84 L249.7,214.45 L250.2,214.58 L250.7,214.49 L251.2,214.17 L251.7,213.49 L252.2,212.43 L252.7,211.51 L253.2,211.37 L253.7,212.14 L254.2,213.23 L254.7,214.04 L255.2,214.43 L255.7,214.46 L256.2,213.96 L256.7,212.84 L257.2,211.67 L257.7,211.68 L258.2,212.85 L258.7,213.97 L259.2,214.32 L259.7,214.14 L260.2,214.19 L260.7,214.40 L261.2,214.55 L261.7,214.59 L262.2,214.60 L262.7,214.58 L263.2,214.51 L263.7,214.34 L264.2,214.07 L264.7,213.85 L265.2,213.86 L265.7,214.09 L266.2,214.36 L266.7,214.50 L267.2,214.34 L267.7,214.19 L268.2,214.21 L268.7,214.37 L269.2,214.44 L269.7,214.21 L270.2,214.13 L270.7,214.33 L271.2,214.09 L271.7,213.66 L272.2,213.36 L272.7,213.42 L273.2,213.78 L273.7,214.19 L274.2,214.35 L274.7,213.82 L275.2,213.88 L275.7,214.40 L276.2,214.53 L276.7,214.38 L277.2,214.23 L277.7,214.23 L278.2,214.39 L278.7,214.46 L279.2,214.10 L279.7,213.83 L280.2,214.07 L280.7,214.44 L281.2,214.58 L281.7,214.56 L282.2,214.42 L282.7,213.96 L283.2,212.82 L283.7,210.73 L284.2,208.06 L284.7,206.00 L285.2,205.78 L285.7,202.42 L286.2,193.25 L286.7,191.77 L287.2,197.31 L287.7,204.98 L288.2,207.98 L288.7,207.77 L289.2,209.43 L289.7,211.72 L290.2,213.42 L290.7,214.15 L291.2,213.52 L291.7,212.70 L292.2,212.17 L292.7,212.32 L293.2,213.04 L293.7,213.81 L294.2,214.05 L294.7,213.67 L295.2,213.12 L295.7,211.42 L296.2,211.19 L296.7,212.78 L297.2,214.11 L297.7,214.19 L298.2,214.34 L298.7,214.13 L299.2,213.78 L299.7,213.55 L300.2,213.64 L300.7,213.96 L301.2,212.96 L301.7,211.07 L302.2,210.82 L302.7,212.57 L303.2,214.04 L303.7,213.88 L304.2,213.16 L304.7,211.51 L305.2,211.29 L305.7,212.83 L306.2,213.40 L306.7,213.54 L307.2,213.99 L307.7,213.60 L308.2,213.10 L308.7,213.16 L309.2,213.70 L309.7,214.24 L310.2,214.30 L310.7,214.34 L311.2,214.10 L311.7,213.28 L312.2,212.11 L312.7,211.28 L313.2,211.46 L313.7,212.50 L314.2,213.60 L314.7,214.27 L315.2,214.50 L315.7,214.28 L316.2,214.09 L316.7,214.18 L317.2,214.33 L317.7,214.26 L318.2,213.74 L318.7,212.49 L319.2,212.07 L319.7,213.12 L320.2,213.97 L320.7,211.89 L321.2,208.78 L321.7,208.36 L322.2,211.26 L322.7,213.71 L323.2,214.48 L323.7,214.59 L324.2,214.60 L324.7,214.60 L325.2,214.60 L325.7,214.58 L326.2,214.52 L326.7,214.41 L327.2,214.26 L327.7,214.18 L328.2,214.23 L328.7,214.37 L329.2,214.36 L329.7,213.45 L330.2,212.31 L330.7,212.73 L331.2,213.97 L331.7,214.51 L332.2,214.55 L332.7,214.46 L333.2,214.31 L333.7,214.20 L334.2,214.21 L334.7,214.35 L335.2,214.48 L335.7,214.52 L336.2,214.03 L336.7,213.70 L337.2,214.28 L337.7,214.54 L338.2,214.16 L338.7,213.77 L339.2,214.18 L339.7,214.49 L340.2,214.25 L340.7,213.81 L341.2,213.37 L341.7,213.28 L342.2,213.62 L342.7,212.99 L343.2,209.76 L343.7,209.25 L344.2,212.42 L344.7,213.43 L345.2,213.84 L345.7,214.26 L346.2,214.49 L346.7,214.58 L347.2,214.60 L347.7,214.60 L348.2,214.53 L348.7,213.92 L349.2,212.11 L349.7,211.10 L350.2,212.72 L350.7,214.21 L351.2,214.57 L351.7,214.59 L352.2,214.52 L352.7,214.22 L353.2,213.52 L353.7,212.63 L354.2,212.21 L354.7,210.40 L355.2,210.18 L355.7,211.81 L356.2,213.54 L356.7,213.90 L357.2,213.99 L357.7,214.34 L358.2,214.29 L358.7,214.34 L359.2,214.29 L359.7,214.24 L360.2,213.98 L360.7,210.66 L361.2,207.30 L361.7,210.66 L362.2,212.29 L362.7,213.13 L363.2,213.95 L363.7,214.32 L364.2,214.00 L364.7,213.77 L365.2,213.89 L365.7,213.47 L366.2,212.81 L366.7,212.74 L367.2,213.33 L367.7,214.02 L368.2,214.43 L368.7,214.57 L369.2,214.60 L369.7,214.60 L370.2,214.60 L370.7,214.60 L371.2,214.58 L371.7,214.52 L372.2,214.41 L372.7,214.31 L373.2,214.33 L373.7,214.33 L374.2,213.84 L374.7,213.51 L375.2,213.80 L375.7,213.99 L376.2,213.47 L376.7,213.40 L377.2,213.87 L377.7,214.35 L378.2,214.55 L378.7,214.59 L379.2,214.60 L379.7,214.60 L380.2,214.60 L380.7,214.60 L381.2,214.60 L381.7,214.59 L382.2,214.55 L382.7,214.30 L383.2,213.56 L383.7,212.31 L384.2,211.46 L384.7,211.90 L385.2,213.14 L385.7,214.11 L386.2,214.32 L386.7,214.25 L387.2,214.09 L387.7,213.78 L388.2,213.70 L388.7,213.92 L389.2,214.25 L389.7,214.48 L390.2,214.57 L390.7,214.60 L391.2,214.59 L391.7,214.47 L392.2,213.78 L392.7,212.26 L393.2,211.60 L393.7,212.88 L394.2,214.16 L394.7,214.55 L395.2,214.60 L395.7,214.59 L396.2,214.44 L396.7,213.93 L397.2,213.54 L397.7,213.97 L398.2,214.38 L398.7,214.27 L399.2,214.34 L399.7,214.48 L400.2,214.57 L400.7,214.60 L401.2,214.59 L401.7,214.56 L402.2,214.44 L402.7,214.16 L403.2,213.78 L403.7,213.58 L404.2,213.75 L404.7,214.13 L405.2,214.43 L405.7,214.56 L406.2,214.59 L406.7,214.60 L407.2,214.60 L407.7,214.54 L408.2,214.11 L408.7,213.28 L409.2,213.39 L409.7,212.13 L410.2,211.95 L410.7,213.18 L411.2,214.22 L411.7,214.44 L412.2,213.87 L412.7,213.11 L413.2,213.22 L413.7,214.02 L414.2,214.49 L414.7,214.41 L415.2,213.96 L415.7,213.47 L416.2,213.57 L416.7,213.09 L417.2,211.94 L417.7,211.26 L418.2,211.61 L418.7,212.70 L419.2,213.74 L419.7,214.31 L420.2,214.23 L420.7,214.34 L421.2,213.67 L421.7,213.17 L422.2,213.84 L422.7,213.75 L423.2,213.53 L423.7,213.57 L424.2,212.27 L424.7,211.41 L425.2,211.96 L425.7,213.28 L426.2,214.20 L426.7,214.28 L427.2,214.23 L427.7,214.28 L428.2,214.40 L428.7,214.51 L429.2,214.57 L429.7,214.44 L430.2,213.88 L430.7,213.31 L431.2,213.68 L431.7,214.34 L432.2,214.57 L432.7,214.52 L433.2,214.34 L433.7,214.30 L434.2,214.48 L434.7,214.58 L435.2,214.60 L435.7,214.60 L436.2,214.60 L436.7,214.59 L437.2,214.44 L437.7,213.88 L438.2,213.81 L438.7,214.39 L439.2,214.58 L439.7,214.48 L440.2,214.28 L440.7,214.17 L441.2,214.30 L441.7,214.49 L442.2,214.49 L442.7,214.38 L443.2,214.30 L443.7,214.30 L444.2,213.37 L444.7,211.95 L445.2,211.76 L445.7,212.06 L446.2,211.50 L446.7,211.99 L447.2,213.08 L447.7,213.99 L448.2,214.22 L448.7,214.26 L449.2,214.47 L449.7,214.58 L450.2,214.60 L450.7,214.58 L451.2,214.32 L451.7,212.93 L452.2,211.28 L452.7,212.42 L453.2,212.42 L453.7,211.74 L454.2,213.05 L454.7,212.39 L455.2,212.24 L455.7,213.33 L456.2,212.91 L456.7,213.79 L457.2,214.13 L457.7,213.02 L458.2,211.86 L458.7,212.13 L459.2,213.44 L459.7,214.08 L460.2,213.26 L460.7,212.13 L461.2,211.37 L461.7,211.59 L462.2,212.61 L462.7,213.66 L463.2,214.29 L463.7,214.22 L464.2,214.06 L464.7,214.11 L465.2,214.32 L465.7,214.42 L466.2,213.83 L466.7,212.82 L467.2,212.36 L467.7,213.08 L468.2,214.04 L468.7,214.36 L469.2,214.43 L469.7,214.03 L470.2,213.24 L470.7,212.31 L471.2,211.84 L471.7,212.24 L472.2,213.16 L472.7,213.15 L473.2,212.89 L473.7,213.32 L474.2,213.99 L474.7,214.13 L475.2,213.48 L475.7,212.86 L476.2,212.81 L476.7,213.40 L477.2,214.07 L477.7,214.33 L478.2,214.11 L478.7,214.01 L479.2,213.57 L479.7,212.39 L480.2,212.24 L480.7,213.33 L481.2,214.11 L481.7,213.98 L482.2,214.09 L482.7,214.33 L483.2,214.29 L483.7,214.41 L484.2,214.56 L484.7,214.60 L485.2,214.59 L485.7,214.49 L486.2,214.17 L486.7,213.89 L487.2,214.07 L487.7,214.37 L488.2,213.91 L488.7,213.68 L489.2,212.52 L489.7,211.55 L490.2,211.71 L490.7,212.82 L491.2,213.89 L491.7,214.42 L492.2,214.57 L492.7,214.60 L493.2,214.58 L493.7,214.54 L494.2,214.46 L494.7,214.35 L495.2,214.27 L495.7,214.28 L496.2,214.38 L496.7,214.46 L497.2,214.33 L497.7,214.24 L498.2,214.27 L498.7,214.40 L499.2,214.30 L499.7,214.18 L500.2,214.17 L500.7,214.28 L501.2,214.43 L501.7,214.36 L502.2,214.28 L502.7,214.32 L503.2,214.43 L503.7,214.54 L504.2,214.58 L504.7,214.60 L505.0,214.60 Z" fill="#26328e"/>
<line x1="62.20" y1="214.80" x2="505.00" y2="214.80" stroke="#26328e" stroke-width="0.6" />
<rect x="62.20" y="216.90" width="442.80" height="2.60" fill="#c4c4c4" />
<rect x="62.20" y="219.50" width="442.80" height="6.60" fill="#f9f9f9" />
<text x="17.50" y="185.75" font-size="9.57" stroke="#1a1a1a" stroke-width="0.1" textLength="40.75" lengthAdjust="spacingAndGlyphs" >RUNX1 #1</text>
<text x="17.50" y="212.00" font-size="9.57" stroke="#1a1a1a" stroke-width="0.1" textLength="40.75" lengthAdjust="spacingAndGlyphs" >RUNX1 #2</text>
<line x1="433.00" y1="172.30" x2="496.60" y2="172.30" stroke="#111" stroke-width="1.3" />
<text x="454.70" y="169.30" font-size="8.32" stroke="#1a1a1a" stroke-width="0.1" textLength="20.00" lengthAdjust="spacingAndGlyphs" >10 kb</text>
<line x1="149.50" y1="222.00" x2="273.00" y2="222.00" stroke="#1f2a88" stroke-width="0.7" />
<path d="M152.70,221.10 L153.50,222.00 L152.70,222.90" fill="none" stroke="#1f2a88" stroke-width="0.5"/>
<path d="M168.70,221.10 L169.50,222.00 L168.70,222.90" fill="none" stroke="#1f2a88" stroke-width="0.5"/>
<path d="M176.70,221.10 L177.50,222.00 L176.70,222.90" fill="none" stroke="#1f2a88" stroke-width="0.5"/>
<path d="M184.70,221.10 L185.50,222.00 L184.70,222.90" fill="none" stroke="#1f2a88" stroke-width="0.5"/>
<path d="M192.70,221.10 L193.50,222.00 L192.70,222.90" fill="none" stroke="#1f2a88" stroke-width="0.5"/>
<path d="M200.70,221.10 L201.50,222.00 L200.70,222.90" fill="none" stroke="#1f2a88" stroke-width="0.5"/>
<path d="M208.70,221.10 L209.50,222.00 L208.70,222.90" fill="none" stroke="#1f2a88" stroke-width="0.5"/>
<path d="M216.70,221.10 L217.50,222.00 L216.70,222.90" fill="none" stroke="#1f2a88" stroke-width="0.5"/>
<path d="M224.70,221.10 L225.50,222.00 L224.70,222.90" fill="none" stroke="#1f2a88" stroke-width="0.5"/>
<rect x="149.50" y="221.20" width="1.00" height="1.60" fill="#1f2a88" />
<rect x="160.50" y="221.30" width="1.00" height="1.40" fill="#1f2a88" />
<rect x="181.20" y="220.90" width="1.30" height="2.20" fill="#1f2a88" />
<rect x="231.00" y="220.90" width="1.20" height="2.20" fill="#1f2a88" />
<rect x="239.50" y="220.80" width="1.20" height="2.40" fill="#1f2a88" />
<rect x="243.50" y="220.80" width="1.20" height="2.40" fill="#1f2a88" />
<rect x="247.00" y="220.60" width="5.00" height="2.80" fill="#1f2a88" />
<rect x="252.00" y="221.10" width="21.00" height="1.80" fill="#1f2a88" />
<line x1="285.00" y1="222.20" x2="300.00" y2="222.20" stroke="#1f2a88" stroke-width="0.7" />
<rect x="285.00" y="221.30" width="1.60" height="1.80" fill="#1f2a88" />
<rect x="291.30" y="221.00" width="1.70" height="2.40" fill="#1f2a88" />
<rect x="294.00" y="220.70" width="6.00" height="3.00" fill="#1f2a88" />
<line x1="320.00" y1="222.00" x2="343.30" y2="222.00" stroke="#1f2a88" stroke-width="0.7" />
<path d="M330.30,221.10 L329.50,222.00 L330.30,222.90" fill="none" stroke="#1f2a88" stroke-width="0.5"/>
<path d="M335.80,221.10 L335.00,222.00 L335.80,222.90" fill="none" stroke="#1f2a88" stroke-width="0.5"/>
<path d="M341.30,221.10 L340.50,222.00 L341.30,222.90" fill="none" stroke="#1f2a88" stroke-width="0.5"/>
<rect x="320.00" y="220.80" width="2.60" height="2.40" fill="#1f2a88" />
<rect x="324.00" y="221.20" width="1.00" height="1.60" fill="#1f2a88" />
<rect x="342.30" y="221.00" width="1.00" height="2.00" fill="#1f2a88" />
<line x1="490.40" y1="222.20" x2="505.00" y2="222.20" stroke="#1f2a88" stroke-width="0.7" />
<path d="M499.10,221.30 L499.90,222.20 L499.10,223.10" fill="none" stroke="#1f2a88" stroke-width="0.5"/>
<rect x="490.40" y="221.10" width="4.10" height="2.20" fill="#1f2a88" />
<line x1="150.00" y1="230.90" x2="265.84" y2="230.90" stroke="#111" stroke-width="1.4" />
<path d="M270.40,230.90 L262.80,227.60 L264.93,230.90 L262.80,234.20 Z" fill="#111"/>
<line x1="285.00" y1="230.90" x2="292.64" y2="230.90" stroke="#111" stroke-width="1.4" />
<path d="M297.20,230.90 L289.60,227.60 L291.73,230.90 L289.60,234.20 Z" fill="#111"/>
<line x1="343.00" y1="230.90" x2="326.86" y2="230.90" stroke="#111" stroke-width="1.4" />
<path d="M322.30,230.90 L329.90,227.60 L327.77,230.90 L329.90,234.20 Z" fill="#111"/>
<line x1="490.00" y1="230.90" x2="498.24" y2="230.90" stroke="#111" stroke-width="1.4" />
<path d="M502.80,230.90 L495.20,227.60 L497.33,230.90 L495.20,234.20 Z" fill="#111"/>
<text x="202.50" y="243.25" font-size="9.15" font-style="italic" stroke="#1a1a1a" stroke-width="0.1" textLength="22.50" lengthAdjust="spacingAndGlyphs" >Mief1</text>
<text x="286.25" y="243.25" font-size="9.15" font-style="italic" stroke="#1a1a1a" stroke-width="0.1" textLength="17.50" lengthAdjust="spacingAndGlyphs" >Atf4</text>
<text x="320.00" y="243.25" font-size="9.15" font-style="italic" stroke="#1a1a1a" stroke-width="0.1" textLength="39.50" lengthAdjust="spacingAndGlyphs" >Rps19bp1</text>
<text x="474.20" y="242.90" font-size="9.15" font-style="italic" stroke="#1a1a1a" stroke-width="0.1" textLength="31.80" lengthAdjust="spacingAndGlyphs" >Cacna1i</text>
<rect x="282.0" y="165.0" width="8.8" height="51.6" fill="none" stroke="#111" stroke-width="1.1"/>
<text x="8.80" y="266.75" font-size="12.0" font-weight="bold" fill="#000" textLength="7.20" lengthAdjust="spacingAndGlyphs" >B</text>
<text x="81.20" y="280.00" font-size="9.57" stroke="#1a1a1a" stroke-width="0.1" textLength="10.70" lengthAdjust="spacingAndGlyphs" >Lin</text>
<text x="92.60" y="276.30" font-size="7.28" stroke="#1a1a1a" stroke-width="0.1" textLength="2.00" lengthAdjust="spacingAndGlyphs" >-</text>
<text x="94.20" y="280.00" font-size="9.57" stroke="#1a1a1a" stroke-width="0.1" textLength="25.40" lengthAdjust="spacingAndGlyphs" >Sca1</text>
<text x="120.20" y="277.60" font-size="8.11" stroke="#1a1a1a" stroke-width="0.1" textLength="4.50" lengthAdjust="spacingAndGlyphs" >+</text>
<text x="125.00" y="280.00" font-size="9.57" stroke="#1a1a1a" stroke-width="0.1" textLength="17.70" lengthAdjust="spacingAndGlyphs" >cKit</text>
<text x="143.30" y="277.60" font-size="8.11" stroke="#1a1a1a" stroke-width="0.1" textLength="4.50" lengthAdjust="spacingAndGlyphs" >+</text>
<line x1="42.80" y1="289.80" x2="42.80" y2="402.20" stroke="#111" stroke-width="1.2" />
<line x1="42.20" y1="401.60" x2="186.00" y2="401.60" stroke="#111" stroke-width="1.2" />
<line x1="39.60" y1="401.60" x2="42.80" y2="401.60" stroke="#111" stroke-width="1.0" />
<line x1="39.60" y1="379.60" x2="42.80" y2="379.60" stroke="#111" stroke-width="1.0" />
<line x1="39.60" y1="357.60" x2="42.80" y2="357.60" stroke="#111" stroke-width="1.0" />
<line x1="39.60" y1="335.60" x2="42.80" y2="335.60" stroke="#111" stroke-width="1.0" />
<line x1="39.60" y1="313.60" x2="42.80" y2="313.60" stroke="#111" stroke-width="1.0" />
<line x1="39.60" y1="291.60" x2="42.80" y2="291.60" stroke="#111" stroke-width="1.0" />
<text x="36.60" y="404.80" font-size="9.36" text-anchor="end" stroke="#1a1a1a" stroke-width="0.1" >0</text>
<text x="36.60" y="360.80" font-size="9.36" text-anchor="end" stroke="#1a1a1a" stroke-width="0.1" >4</text>
<text x="36.60" y="316.80" font-size="9.36" text-anchor="end" stroke="#1a1a1a" stroke-width="0.1" >8</text>
<text x="0" y="0" font-size="9.3" fill="#1a1a1a" text-anchor="middle" transform="translate(24.3,344.6) rotate(-90)" textLength="37.9" lengthAdjust="spacingAndGlyphs">% of input</text>
<rect x="54.0" y="321.63" width="8.7" height="79.97" fill="#2d4b80" stroke="#1c3366" stroke-width="0.5"/>
<rect x="64.4" y="356.50" width="8.6" height="45.10" fill="#a3002b" stroke="#7e0020" stroke-width="0.5"/>
<line x1="58.40" y1="321.63" x2="58.40" y2="301.83" stroke="#111" stroke-width="0.9" />
<line x1="57.00" y1="301.83" x2="59.80" y2="301.83" stroke="#111" stroke-width="0.9" />
<line x1="68.70" y1="356.50" x2="68.70" y2="352.10" stroke="#111" stroke-width="0.9" />
<line x1="67.30" y1="352.10" x2="70.10" y2="352.10" stroke="#111" stroke-width="0.9" />
<circle cx="58.6" cy="343.0" r="0.6" fill="#111"/>
<circle cx="57.8" cy="320.8" r="0.6" fill="#111"/>
<circle cx="57.6" cy="301.5" r="0.6" fill="#111"/>
<circle cx="68.6" cy="358.5" r="0.6" fill="#111"/>
<circle cx="70.0" cy="353.5" r="0.6" fill="#111"/>
<circle cx="67.5" cy="356.0" r="0.6" fill="#111"/>
<rect x="122.10" y="400.00" width="8.70" height="1.60" fill="#2d4b80" />
<rect x="132.80" y="400.20" width="8.50" height="1.40" fill="#a3002b" />
<line x1="126.50" y1="397.60" x2="126.50" y2="400.10" stroke="#111" stroke-width="0.8" />
<line x1="125.60" y1="397.60" x2="127.40" y2="397.60" stroke="#111" stroke-width="0.8" />
<line x1="136.80" y1="398.60" x2="136.80" y2="400.30" stroke="#111" stroke-width="0.8" />
<line x1="135.90" y1="398.60" x2="137.70" y2="398.60" stroke="#111" stroke-width="0.8" />
<circle cx="125.5" cy="399.6" r="0.65" fill="#111"/>
<circle cx="127.8" cy="399.2" r="0.65" fill="#111"/>
<circle cx="136.2" cy="399.7" r="0.65" fill="#111"/>
<circle cx="93.0" cy="400.6" r="0.65" fill="#111"/>
<circle cx="101.0" cy="400.6" r="0.65" fill="#111"/>
<circle cx="161.0" cy="400.4" r="0.65" fill="#111"/>
<circle cx="170.8" cy="400.0" r="0.65" fill="#111"/>
<text x="47.50" y="294.00" font-size="8.94" stroke="#1a1a1a" stroke-width="0.1" textLength="30.50" lengthAdjust="spacingAndGlyphs" >p &lt; 0.05</text>
<path d="M57.6,298.8 L57.6,296.3 L67.4,296.3 L67.4,298.8" fill="none" stroke="#111" stroke-width="0.9"/>
<rect x="107.50" y="291.25" width="26.25" height="8.75" fill="#2d4b80" stroke="#1c3366" stroke-width="0.5"/>
<rect x="107.50" y="305.50" width="26.25" height="8.75" fill="#a3002b" stroke="#7e0020" stroke-width="0.5"/>
<text x="138.00" y="299.10" font-size="8.74" font-style="italic" stroke="#1a1a1a" stroke-width="0.1" textLength="22.60" lengthAdjust="spacingAndGlyphs" >Runx1</text>
<text x="161.20" y="296.60" font-size="7.07" font-style="italic" stroke="#1a1a1a" stroke-width="0.1" textLength="9.30" lengthAdjust="spacingAndGlyphs" >+/+</text>
<text x="138.00" y="313.70" font-size="8.74" font-style="italic" stroke="#1a1a1a" stroke-width="0.1" textLength="22.60" lengthAdjust="spacingAndGlyphs" >Runx1</text>
<text x="161.20" y="311.30" font-size="6.86" font-style="italic" stroke="#1a1a1a" stroke-width="0.1" textLength="40.80" lengthAdjust="spacingAndGlyphs" >KTAMK/KTAMK</text>
<text x="41.80" y="412.30" font-size="8.74" stroke="#1a1a1a" stroke-width="0.1" textLength="37.40" lengthAdjust="spacingAndGlyphs" >H3K27Ac</text>
<text x="83.80" y="412.30" font-size="8.74" stroke="#1a1a1a" stroke-width="0.1" textLength="26.50" lengthAdjust="spacingAndGlyphs" >normal</text>
<text x="90.60" y="422.20" font-size="8.74" stroke="#1a1a1a" stroke-width="0.1" textLength="13.80" lengthAdjust="spacingAndGlyphs" >IgG</text>
<text x="115.60" y="412.30" font-size="8.74" stroke="#1a1a1a" stroke-width="0.1" textLength="36.90" lengthAdjust="spacingAndGlyphs" >H3K27Ac</text>
<text x="155.80" y="412.30" font-size="8.74" stroke="#1a1a1a" stroke-width="0.1" textLength="27.80" lengthAdjust="spacingAndGlyphs" >normal</text>
<text x="162.50" y="422.20" font-size="8.74" stroke="#1a1a1a" stroke-width="0.1" textLength="13.80" lengthAdjust="spacingAndGlyphs" >IgG</text>
<line x1="44.90" y1="428.30" x2="109.10" y2="428.30" stroke="#111" stroke-width="1.0" />
<line x1="116.60" y1="428.30" x2="180.60" y2="428.30" stroke="#111" stroke-width="1.0" />
<text x="49.10" y="439.20" font-size="8.74" font-style="italic" stroke="#1a1a1a" stroke-width="0.1" textLength="16.50" lengthAdjust="spacingAndGlyphs" >Atf4</text>
<text x="67.00" y="439.20" font-size="8.74" stroke="#1a1a1a" stroke-width="0.1" textLength="38.70" lengthAdjust="spacingAndGlyphs" >promoter</text>
<text x="115.00" y="439.20" font-size="8.74" stroke="#1a1a1a" stroke-width="0.1" textLength="67.60" lengthAdjust="spacingAndGlyphs" >Intergenic region</text>
<text x="213.90" y="267.60" font-size="13.0" font-weight="bold" fill="#000" textLength="8.20" lengthAdjust="spacingAndGlyphs" >C</text>
<text x="251.30" y="304.90" font-size="8.22" stroke="#1a1a1a" stroke-width="0.1" textLength="159.50" lengthAdjust="spacingAndGlyphs" >Human HL-60 promyelocytic leukemia cells</text>
<text x="251.30" y="314.70" font-size="8.22" stroke="#1a1a1a" stroke-width="0.1" textLength="135.60" lengthAdjust="spacingAndGlyphs" >Human ATF4 promoter (-463 to +82)</text>
<rect x="317.10" y="326.10" width="39.30" height="7.8" fill="#2d4b80" stroke="#1c3366" stroke-width="0.4"/>
<rect x="317.10" y="336.60" width="132.36" height="7.8" fill="#68a843" stroke="#4f8c30" stroke-width="0.4"/>
<rect x="317.10" y="347.00" width="129.98" height="7.8" fill="#68a843" stroke="#4f8c30" stroke-width="0.4"/>
<rect x="317.10" y="357.60" width="89.59" height="7.8" fill="#a3002b" stroke="#7e0020" stroke-width="0.4"/>
<line x1="316.80" y1="320.90" x2="316.80" y2="371.30" stroke="#111" stroke-width="1.2" />
<line x1="316.20" y1="370.70" x2="478.80" y2="370.70" stroke="#111" stroke-width="1.2" />
<line x1="316.80" y1="370.70" x2="316.80" y2="373.80" stroke="#111" stroke-width="1.0" />
<text x="316.80" y="385.60" font-size="8.53" text-anchor="middle" stroke="#1a1a1a" stroke-width="0.1" >0</text>
<line x1="356.40" y1="370.70" x2="356.40" y2="373.80" stroke="#111" stroke-width="1.0" />
<text x="356.40" y="385.60" font-size="8.53" text-anchor="middle" stroke="#1a1a1a" stroke-width="0.1" >1</text>
<line x1="396.00" y1="370.70" x2="396.00" y2="373.80" stroke="#111" stroke-width="1.0" />
<text x="396.00" y="385.60" font-size="8.53" text-anchor="middle" stroke="#1a1a1a" stroke-width="0.1" >2</text>
<line x1="435.60" y1="370.70" x2="435.60" y2="373.80" stroke="#111" stroke-width="1.0" />
<text x="435.60" y="385.60" font-size="8.53" text-anchor="middle" stroke="#1a1a1a" stroke-width="0.1" >3</text>
<line x1="475.20" y1="370.70" x2="475.20" y2="373.80" stroke="#111" stroke-width="1.0" />
<text x="475.20" y="385.60" font-size="8.53" text-anchor="middle" stroke="#1a1a1a" stroke-width="0.1" >4</text>
<text x="353.50" y="400.40" font-size="10.4" stroke="#1a1a1a" stroke-width="0.1" textLength="89.90" lengthAdjust="spacingAndGlyphs" >Relative reporter activity</text>
<line x1="356.40" y1="330.00" x2="357.19" y2="330.00" stroke="#111" stroke-width="0.9" />
<line x1="357.19" y1="329.00" x2="357.19" y2="331.00" stroke="#111" stroke-width="0.9" />
<line x1="449.46" y1="340.50" x2="460.55" y2="340.50" stroke="#111" stroke-width="0.9" />
<line x1="460.55" y1="339.50" x2="460.55" y2="341.50" stroke="#111" stroke-width="0.9" />
<line x1="447.08" y1="350.90" x2="454.21" y2="350.90" stroke="#111" stroke-width="0.9" />
<line x1="454.21" y1="349.90" x2="454.21" y2="351.90" stroke="#111" stroke-width="0.9" />
<line x1="406.69" y1="361.50" x2="408.67" y2="361.50" stroke="#111" stroke-width="0.9" />
<line x1="408.67" y1="360.50" x2="408.67" y2="362.50" stroke="#111" stroke-width="0.9" />
<circle cx="355.0" cy="330.0" r="0.6" fill="#111"/>
<circle cx="356.5" cy="329.2" r="0.6" fill="#111"/>
<circle cx="443.0" cy="340.5" r="0.6" fill="#111"/>
<circle cx="452.0" cy="340.6" r="0.6" fill="#111"/>
<circle cx="456.5" cy="340.0" r="0.6" fill="#111"/>
<circle cx="444.5" cy="350.9" r="0.6" fill="#111"/>
<circle cx="449.5" cy="350.6" r="0.6" fill="#111"/>
<circle cx="402.5" cy="361.5" r="0.6" fill="#111"/>
<circle cx="406.5" cy="361.0" r="0.6" fill="#111"/>
<text x="288.10" y="333.00" font-size="9.05" stroke="#1a1a1a" stroke-width="0.1" textLength="24.80" lengthAdjust="spacingAndGlyphs" >empty</text>
<text x="239.20" y="343.40" font-size="9.05" stroke="#1a1a1a" stroke-width="0.1" textLength="73.70" lengthAdjust="spacingAndGlyphs" >RUNX1 wt + CBF&#946;</text>
<text x="223.50" y="354.00" font-size="9.05" stroke="#1a1a1a" stroke-width="0.1" textLength="89.40" lengthAdjust="spacingAndGlyphs" >RUNX1 R233K + CBF&#946;</text>
<text x="223.50" y="364.20" font-size="9.05" stroke="#1a1a1a" stroke-width="0.1" textLength="89.40" lengthAdjust="spacingAndGlyphs" >RUNX1 R237K + CBF&#946;</text>
<path d="M476.5,328.9 L478.8,328.9 L478.8,339.4 L476.5,339.4" fill="none" stroke="#111" stroke-width="1.0"/>
<path d="M470.0,340.5 L472.8,340.5 L472.8,350.8 L470.0,350.8" fill="none" stroke="#111" stroke-width="1.0"/>
<path d="M463.4,340.2 L466.2,340.2 L466.2,361.2 L463.4,361.2" fill="none" stroke="#111" stroke-width="1.0"/>
<text x="480.80" y="336.20" font-size="9.05" stroke="#1a1a1a" stroke-width="0.1" textLength="30.70" lengthAdjust="spacingAndGlyphs" >p &lt; 0.01</text>
<text x="475.00" y="348.20" font-size="9.05" stroke="#1a1a1a" stroke-width="0.1" textLength="10.80" lengthAdjust="spacingAndGlyphs" >NS</text>
<text x="468.80" y="359.70" font-size="9.05" stroke="#1a1a1a" stroke-width="0.1" textLength="30.90" lengthAdjust="spacingAndGlyphs" >p &lt; 0.05</text>
<text x="8.75" y="463.25" font-size="12.0" font-weight="bold" fill="#000" >D</text>
<text x="18.60" y="479.50" font-size="9.15" stroke="#1a1a1a" stroke-width="0.1" textLength="42.50" lengthAdjust="spacingAndGlyphs" >ATF4 locus</text>
<text x="18.60" y="501.90" font-size="9.15" stroke="#1a1a1a" stroke-width="0.1" textLength="24.80" lengthAdjust="spacingAndGlyphs" >Luc #1</text>
<text x="18.60" y="520.70" font-size="9.15" stroke="#1a1a1a" stroke-width="0.1" textLength="25.00" lengthAdjust="spacingAndGlyphs" >Luc #2</text>
<text x="18.60" y="539.10" font-size="9.15" stroke="#1a1a1a" stroke-width="0.1" textLength="37.70" lengthAdjust="spacingAndGlyphs" >Luc #3 wt</text>
<text x="18.60" y="557.50" font-size="9.15" stroke="#1a1a1a" stroke-width="0.1" textLength="50.50" lengthAdjust="spacingAndGlyphs" >Luc #3 mut-1</text>
<text x="18.60" y="575.80" font-size="9.15" stroke="#1a1a1a" stroke-width="0.1" textLength="51.70" lengthAdjust="spacingAndGlyphs" >Luc #3 mut-2</text>
<text x="18.60" y="593.80" font-size="9.15" stroke="#1a1a1a" stroke-width="0.1" textLength="63.00" lengthAdjust="spacingAndGlyphs" >Luc #3 mut-1&amp;2</text>
<line x1="78.10" y1="476.50" x2="190.50" y2="476.50" stroke="#111" stroke-width="1.15" />
<rect x="102.80" y="471.40" width="10.90" height="10.90" fill="#080808" />
<line x1="108.55" y1="471.70" x2="108.55" y2="481.50" stroke="#8a8a8a" stroke-width="0.5" />
<path d="M234.9,472.50 L190.5,472.50 L190.5,480.90 L234.9,480.90" fill="none" stroke="#111" stroke-width="1.1"/>
<text x="212.60" y="478.90" font-size="6.86" text-anchor="middle" stroke="#1a1a1a" stroke-width="0.1" >ATF4</text>
<text x="98.80" y="468.10" font-size="6.86" stroke="#1a1a1a" stroke-width="0.1" textLength="22.70" lengthAdjust="spacingAndGlyphs" >RUNX1</text>
<line x1="121.90" y1="481.10" x2="169.00" y2="481.10" stroke="#111" stroke-width="1.3" />
<path d="M118.9,481.1 L126.30,478.00 L124.20,481.1 L126.30,484.20 Z" fill="#111"/>
<path d="M172.0,481.1 L164.60,478.00 L166.70,481.1 L164.60,484.20 Z" fill="#111"/>
<text x="172.50" y="483.50" font-size="7.07" stroke="#1a1a1a" stroke-width="0.1" textLength="16.00" lengthAdjust="spacingAndGlyphs" >+883</text>
<text x="125.10" y="491.60" font-size="7.28" stroke="#1a1a1a" stroke-width="0.1" textLength="41.50" lengthAdjust="spacingAndGlyphs" >uORF1 and 2</text>
<text x="190.00" y="491.60" font-size="7.28" stroke="#1a1a1a" stroke-width="0.1" textLength="14.10" lengthAdjust="spacingAndGlyphs" >ATG</text>
<line x1="82.50" y1="499.50" x2="190.50" y2="499.50" stroke="#111" stroke-width="1.15" />
<rect x="102.80" y="493.80" width="10.90" height="10.90" fill="#080808" />
<line x1="108.55" y1="494.10" x2="108.55" y2="503.90" stroke="#8a8a8a" stroke-width="0.5" />
<path d="M234.9,494.90 L190.5,494.90 L190.5,503.30 L234.9,503.30" fill="none" stroke="#111" stroke-width="1.1"/>
<text x="212.60" y="501.30" font-size="6.86" text-anchor="middle" stroke="#1a1a1a" stroke-width="0.1" >Luc</text>
<line x1="121.90" y1="503.60" x2="169.00" y2="503.60" stroke="#111" stroke-width="1.3" />
<path d="M118.9,503.6 L126.30,500.50 L124.20,503.6 L126.30,506.70 Z" fill="#111"/>
<path d="M172.0,503.6 L164.60,500.50 L166.70,503.6 L164.60,506.70 Z" fill="#111"/>
<text x="172.50" y="506.00" font-size="7.07" stroke="#1a1a1a" stroke-width="0.1" textLength="16.00" lengthAdjust="spacingAndGlyphs" >+871</text>
<text x="125.10" y="514.40" font-size="7.28" stroke="#1a1a1a" stroke-width="0.1" textLength="41.50" lengthAdjust="spacingAndGlyphs" >uORF1 and 2</text>
<text x="75.40" y="506.10" font-size="7.49" stroke="#1a1a1a" stroke-width="0.1" textLength="13.80" lengthAdjust="spacingAndGlyphs" >-463</text>
<line x1="82.50" y1="517.50" x2="122.90" y2="517.50" stroke="#111" stroke-width="1.15" />
<rect x="102.80" y="512.60" width="10.90" height="10.90" fill="#080808" />
<line x1="108.55" y1="512.90" x2="108.55" y2="522.70" stroke="#8a8a8a" stroke-width="0.5" />
<line x1="126.50" y1="517.50" x2="133.70" y2="517.50" stroke="#555" stroke-width="1.0" />
<line x1="140.60" y1="517.50" x2="147.80" y2="517.50" stroke="#555" stroke-width="1.0" />
<line x1="154.70" y1="517.50" x2="161.90" y2="517.50" stroke="#555" stroke-width="1.0" />
<line x1="168.80" y1="517.50" x2="176.00" y2="517.50" stroke="#555" stroke-width="1.0" />
<line x1="182.90" y1="517.50" x2="190.10" y2="517.50" stroke="#555" stroke-width="1.0" />
<path d="M234.9,513.70 L190.5,513.70 L190.5,522.10 L234.9,522.10" fill="none" stroke="#111" stroke-width="1.1"/>
<text x="212.60" y="520.10" font-size="6.86" text-anchor="middle" stroke="#1a1a1a" stroke-width="0.1" >Luc</text>
<text x="75.40" y="525.10" font-size="7.49" stroke="#1a1a1a" stroke-width="0.1" textLength="13.80" lengthAdjust="spacingAndGlyphs" >-463</text>
<text x="117.10" y="525.10" font-size="7.49" stroke="#1a1a1a" stroke-width="0.1" textLength="11.60" lengthAdjust="spacingAndGlyphs" >+82</text>
<line x1="95.50" y1="536.50" x2="122.70" y2="536.50" stroke="#111" stroke-width="1.15" />
<rect x="102.80" y="531.00" width="10.90" height="10.90" fill="#080808" />
<line x1="108.55" y1="531.30" x2="108.55" y2="541.10" stroke="#8a8a8a" stroke-width="0.5" />
<line x1="126.50" y1="536.50" x2="133.70" y2="536.50" stroke="#555" stroke-width="1.0" />
<line x1="140.60" y1="536.50" x2="147.80" y2="536.50" stroke="#555" stroke-width="1.0" />
<line x1="154.70" y1="536.50" x2="161.90" y2="536.50" stroke="#555" stroke-width="1.0" />
<line x1="168.80" y1="536.50" x2="176.00" y2="536.50" stroke="#555" stroke-width="1.0" />
<line x1="182.90" y1="536.50" x2="190.10" y2="536.50" stroke="#555" stroke-width="1.0" />
<path d="M234.9,532.10 L190.5,532.10 L190.5,540.50 L234.9,540.50" fill="none" stroke="#111" stroke-width="1.1"/>
<text x="212.60" y="538.50" font-size="6.86" text-anchor="middle" stroke="#1a1a1a" stroke-width="0.1" >Luc</text>
<text x="88.30" y="542.90" font-size="7.49" stroke="#1a1a1a" stroke-width="0.1" textLength="13.60" lengthAdjust="spacingAndGlyphs" >-313</text>
<text x="117.30" y="542.90" font-size="7.49" stroke="#1a1a1a" stroke-width="0.1" textLength="11.60" lengthAdjust="spacingAndGlyphs" >+82</text>
<line x1="95.50" y1="554.50" x2="122.70" y2="554.50" stroke="#111" stroke-width="1.15" />
<rect x="102.80" y="549.40" width="10.90" height="10.90" fill="#080808" />
<line x1="108.55" y1="549.70" x2="108.55" y2="559.50" stroke="#8a8a8a" stroke-width="0.5" />
<path d="M104.0,551.80 L107.3,557.70 M107.3,551.80 L104.0,557.70" stroke="#d0173f" stroke-width="1.0" fill="none"/>
<line x1="126.50" y1="554.50" x2="133.70" y2="554.50" stroke="#555" stroke-width="1.0" />
<line x1="140.60" y1="554.50" x2="147.80" y2="554.50" stroke="#555" stroke-width="1.0" />
<line x1="154.70" y1="554.50" x2="161.90" y2="554.50" stroke="#555" stroke-width="1.0" />
<line x1="168.80" y1="554.50" x2="176.00" y2="554.50" stroke="#555" stroke-width="1.0" />
<line x1="182.90" y1="554.50" x2="190.10" y2="554.50" stroke="#555" stroke-width="1.0" />
<path d="M234.9,550.50 L190.5,550.50 L190.5,558.90 L234.9,558.90" fill="none" stroke="#111" stroke-width="1.1"/>
<text x="212.60" y="556.90" font-size="6.86" text-anchor="middle" stroke="#1a1a1a" stroke-width="0.1" >Luc</text>
<text x="88.30" y="561.30" font-size="7.49" stroke="#1a1a1a" stroke-width="0.1" textLength="13.60" lengthAdjust="spacingAndGlyphs" >-313</text>
<text x="117.30" y="561.30" font-size="7.49" stroke="#1a1a1a" stroke-width="0.1" textLength="11.60" lengthAdjust="spacingAndGlyphs" >+82</text>
<line x1="95.50" y1="573.50" x2="122.70" y2="573.50" stroke="#111" stroke-width="1.15" />
<rect x="102.80" y="567.70" width="10.90" height="10.90" fill="#080808" />
<line x1="108.55" y1="568.00" x2="108.55" y2="577.80" stroke="#8a8a8a" stroke-width="0.5" />
<path d="M109.7,570.10 L113.0,576.00 M113.0,570.10 L109.7,576.00" stroke="#d0173f" stroke-width="1.0" fill="none"/>
<line x1="126.50" y1="573.50" x2="133.70" y2="573.50" stroke="#555" stroke-width="1.0" />
<line x1="140.60" y1="573.50" x2="147.80" y2="573.50" stroke="#555" stroke-width="1.0" />
<line x1="154.70" y1="573.50" x2="161.90" y2="573.50" stroke="#555" stroke-width="1.0" />
<line x1="168.80" y1="573.50" x2="176.00" y2="573.50" stroke="#555" stroke-width="1.0" />
<line x1="182.90" y1="573.50" x2="190.10" y2="573.50" stroke="#555" stroke-width="1.0" />
<path d="M234.9,568.80 L190.5,568.80 L190.5,577.20 L234.9,577.20" fill="none" stroke="#111" stroke-width="1.1"/>
<text x="212.60" y="575.20" font-size="6.86" text-anchor="middle" stroke="#1a1a1a" stroke-width="0.1" >Luc</text>
<text x="88.30" y="579.60" font-size="7.49" stroke="#1a1a1a" stroke-width="0.1" textLength="13.60" lengthAdjust="spacingAndGlyphs" >-313</text>
<text x="117.30" y="579.60" font-size="7.49" stroke="#1a1a1a" stroke-width="0.1" textLength="11.60" lengthAdjust="spacingAndGlyphs" >+82</text>
<line x1="95.50" y1="591.50" x2="122.70" y2="591.50" stroke="#111" stroke-width="1.15" />
<rect x="102.80" y="585.70" width="10.90" height="10.90" fill="#080808" />
<line x1="108.55" y1="586.00" x2="108.55" y2="595.80" stroke="#8a8a8a" stroke-width="0.5" />
<path d="M104.0,588.10 L107.3,594.00 M107.3,588.10 L104.0,594.00" stroke="#d0173f" stroke-width="1.0" fill="none"/>
<path d="M109.7,588.10 L113.0,594.00 M113.0,588.10 L109.7,594.00" stroke="#d0173f" stroke-width="1.0" fill="none"/>
<line x1="126.50" y1="591.50" x2="133.70" y2="591.50" stroke="#555" stroke-width="1.0" />
<line x1="140.60" y1="591.50" x2="147.80" y2="591.50" stroke="#555" stroke-width="1.0" />
<line x1="154.70" y1="591.50" x2="161.90" y2="591.50" stroke="#555" stroke-width="1.0" />
<line x1="168.80" y1="591.50" x2="176.00" y2="591.50" stroke="#555" stroke-width="1.0" />
<line x1="182.90" y1="591.50" x2="190.10" y2="591.50" stroke="#555" stroke-width="1.0" />
<path d="M234.9,586.80 L190.5,586.80 L190.5,595.20 L234.9,595.20" fill="none" stroke="#111" stroke-width="1.1"/>
<text x="212.60" y="593.20" font-size="6.86" text-anchor="middle" stroke="#1a1a1a" stroke-width="0.1" >Luc</text>
<text x="88.30" y="597.60" font-size="7.49" stroke="#1a1a1a" stroke-width="0.1" textLength="13.60" lengthAdjust="spacingAndGlyphs" >-313</text>
<text x="117.30" y="597.60" font-size="7.49" stroke="#1a1a1a" stroke-width="0.1" textLength="11.60" lengthAdjust="spacingAndGlyphs" >+82</text>
<line x1="103.30" y1="599.60" x2="91.30" y2="606.30" stroke="#111" stroke-width="1.3" />
<line x1="113.80" y1="599.60" x2="125.40" y2="606.30" stroke="#111" stroke-width="1.3" />
<text x="71.90" y="615.20" font-size="8.22" stroke="#1a1a1a" stroke-width="0.1" textLength="34.30" lengthAdjust="spacingAndGlyphs" >CGTGGTC</text>
<text x="112.90" y="615.80" font-size="8.22" stroke="#1a1a1a" stroke-width="0.1" textLength="27.90" lengthAdjust="spacingAndGlyphs" >TGTGCT</text>
<path d="M88.60,618.0 L92.20,619.10 L95.80,618.0 L93.40,622.60 L92.20,626.00 L91.00,622.60 Z" fill="#a8002d"/>
<path d="M129.40,618.0 L133.00,619.10 L136.60,618.0 L134.20,622.60 L133.00,626.00 L131.80,622.60 Z" fill="#a8002d"/>
<text x="73.8" y="634.7" font-size="8.2" fill="#1a1a1a" textLength="31.8" lengthAdjust="spacingAndGlyphs">CGT<tspan fill="#b3103a">TT</tspan>TC</text>
<text x="115.8" y="634.7" font-size="8.2" fill="#1a1a1a" textLength="24.6" lengthAdjust="spacingAndGlyphs">TGT<tspan fill="#b3103a">TT</tspan>T</text>
<text x="255.00" y="479.40" font-size="8.22" stroke="#1a1a1a" stroke-width="0.1" textLength="160.20" lengthAdjust="spacingAndGlyphs" >Human HL-60 promyelocytic leukemia cells</text>
<rect x="242.00" y="494.10" width="72.80" height="5.2" fill="#a3002b" stroke="#7e0020" stroke-width="0.3"/>
<rect x="242.00" y="500.00" width="36.25" height="5.1" fill="#2d4b80" stroke="#1c3366" stroke-width="0.3"/>
<line x1="314.80" y1="496.70" x2="320.65" y2="496.70" stroke="#111" stroke-width="0.8" />
<line x1="320.65" y1="495.80" x2="320.65" y2="497.60" stroke="#111" stroke-width="0.8" />
<line x1="278.25" y1="502.60" x2="284.83" y2="502.60" stroke="#111" stroke-width="0.8" />
<line x1="284.83" y1="501.70" x2="284.83" y2="503.50" stroke="#111" stroke-width="0.8" />
<circle cx="311.30" cy="496.60" r="0.55" fill="#111"/>
<circle cx="306.80" cy="496.90" r="0.55" fill="#111"/>
<circle cx="275.75" cy="502.50" r="0.55" fill="#111"/>
<circle cx="270.25" cy="502.70" r="0.55" fill="#111"/>
<rect x="242.00" y="512.90" width="72.80" height="5.2" fill="#a3002b" stroke="#7e0020" stroke-width="0.3"/>
<rect x="242.00" y="518.80" width="151.02" height="5.1" fill="#2d4b80" stroke="#1c3366" stroke-width="0.3"/>
<line x1="314.80" y1="515.50" x2="328.69" y2="515.50" stroke="#111" stroke-width="0.8" />
<line x1="328.69" y1="514.60" x2="328.69" y2="516.40" stroke="#111" stroke-width="0.8" />
<line x1="393.02" y1="521.40" x2="395.21" y2="521.40" stroke="#111" stroke-width="0.8" />
<line x1="395.21" y1="520.50" x2="395.21" y2="522.30" stroke="#111" stroke-width="0.8" />
<circle cx="311.30" cy="515.40" r="0.55" fill="#111"/>
<circle cx="306.80" cy="515.70" r="0.55" fill="#111"/>
<circle cx="390.52" cy="521.30" r="0.55" fill="#111"/>
<circle cx="385.02" cy="521.50" r="0.55" fill="#111"/>
<rect x="242.00" y="531.30" width="72.80" height="5.2" fill="#a3002b" stroke="#7e0020" stroke-width="0.3"/>
<rect x="242.00" y="537.20" width="137.86" height="5.1" fill="#2d4b80" stroke="#1c3366" stroke-width="0.3"/>
<line x1="314.80" y1="533.90" x2="324.30" y2="533.90" stroke="#111" stroke-width="0.8" />
<line x1="324.30" y1="533.00" x2="324.30" y2="534.80" stroke="#111" stroke-width="0.8" />
<line x1="379.86" y1="539.80" x2="388.63" y2="539.80" stroke="#111" stroke-width="0.8" />
<line x1="388.63" y1="538.90" x2="388.63" y2="540.70" stroke="#111" stroke-width="0.8" />
<circle cx="311.30" cy="533.80" r="0.55" fill="#111"/>
<circle cx="306.80" cy="534.10" r="0.55" fill="#111"/>
<circle cx="377.36" cy="539.70" r="0.55" fill="#111"/>
<circle cx="371.86" cy="539.90" r="0.55" fill="#111"/>
<rect x="242.00" y="549.70" width="72.80" height="5.2" fill="#a3002b" stroke="#7e0020" stroke-width="0.3"/>
<rect x="242.00" y="555.60" width="133.47" height="5.1" fill="#2d4b80" stroke="#1c3366" stroke-width="0.3"/>
<line x1="314.80" y1="552.30" x2="320.65" y2="552.30" stroke="#111" stroke-width="0.8" />
<line x1="320.65" y1="551.40" x2="320.65" y2="553.20" stroke="#111" stroke-width="0.8" />
<line x1="375.47" y1="558.20" x2="384.98" y2="558.20" stroke="#111" stroke-width="0.8" />
<line x1="384.98" y1="557.30" x2="384.98" y2="559.10" stroke="#111" stroke-width="0.8" />
<circle cx="311.30" cy="552.20" r="0.55" fill="#111"/>
<circle cx="306.80" cy="552.50" r="0.55" fill="#111"/>
<circle cx="372.97" cy="558.10" r="0.55" fill="#111"/>
<circle cx="367.47" cy="558.30" r="0.55" fill="#111"/>
<rect x="242.00" y="568.00" width="72.80" height="5.2" fill="#a3002b" stroke="#7e0020" stroke-width="0.3"/>
<rect x="242.00" y="573.90" width="74.99" height="5.1" fill="#2d4b80" stroke="#1c3366" stroke-width="0.3"/>
<line x1="314.80" y1="570.60" x2="319.92" y2="570.60" stroke="#111" stroke-width="0.8" />
<line x1="319.92" y1="569.70" x2="319.92" y2="571.50" stroke="#111" stroke-width="0.8" />
<line x1="316.99" y1="576.50" x2="322.84" y2="576.50" stroke="#111" stroke-width="0.8" />
<line x1="322.84" y1="575.60" x2="322.84" y2="577.40" stroke="#111" stroke-width="0.8" />
<circle cx="311.30" cy="570.50" r="0.55" fill="#111"/>
<circle cx="306.80" cy="570.80" r="0.55" fill="#111"/>
<circle cx="314.49" cy="576.40" r="0.55" fill="#111"/>
<circle cx="308.99" cy="576.60" r="0.55" fill="#111"/>
<rect x="242.00" y="586.00" width="72.80" height="5.2" fill="#a3002b" stroke="#7e0020" stroke-width="0.3"/>
<rect x="242.00" y="591.90" width="81.57" height="5.1" fill="#2d4b80" stroke="#1c3366" stroke-width="0.3"/>
<line x1="314.80" y1="588.60" x2="327.23" y2="588.60" stroke="#111" stroke-width="0.8" />
<line x1="327.23" y1="587.70" x2="327.23" y2="589.50" stroke="#111" stroke-width="0.8" />
<line x1="323.57" y1="594.50" x2="338.19" y2="594.50" stroke="#111" stroke-width="0.8" />
<line x1="338.19" y1="593.60" x2="338.19" y2="595.40" stroke="#111" stroke-width="0.8" />
<circle cx="311.30" cy="588.50" r="0.55" fill="#111"/>
<circle cx="306.80" cy="588.80" r="0.55" fill="#111"/>
<circle cx="321.07" cy="594.40" r="0.55" fill="#111"/>
<circle cx="315.57" cy="594.60" r="0.55" fill="#111"/>
<line x1="241.70" y1="488.50" x2="241.70" y2="602.60" stroke="#111" stroke-width="1.2" />
<line x1="241.10" y1="602.00" x2="428.60" y2="602.00" stroke="#111" stroke-width="1.2" />
<line x1="241.70" y1="602.00" x2="241.70" y2="604.80" stroke="#111" stroke-width="1.0" />
<line x1="278.25" y1="602.00" x2="278.25" y2="604.80" stroke="#111" stroke-width="1.0" />
<line x1="314.80" y1="602.00" x2="314.80" y2="604.80" stroke="#111" stroke-width="1.0" />
<line x1="351.35" y1="602.00" x2="351.35" y2="604.80" stroke="#111" stroke-width="1.0" />
<line x1="387.90" y1="602.00" x2="387.90" y2="604.80" stroke="#111" stroke-width="1.0" />
<line x1="424.45" y1="602.00" x2="424.45" y2="604.80" stroke="#111" stroke-width="1.0" />
<text x="239.50" y="611.00" font-size="8.53" text-anchor="middle" stroke="#1a1a1a" stroke-width="0.1" >0</text>
<text x="314.00" y="611.00" font-size="8.53" text-anchor="middle" stroke="#1a1a1a" stroke-width="0.1" >1</text>
<text x="387.10" y="611.00" font-size="8.53" text-anchor="middle" stroke="#1a1a1a" stroke-width="0.1" >2</text>
<text x="289.20" y="622.30" font-size="10.4" stroke="#1a1a1a" stroke-width="0.1" textLength="89.80" lengthAdjust="spacingAndGlyphs" >Relative reporter activity</text>
<rect x="388.10" y="489.10" width="26.90" height="7.10" fill="#a3002b" stroke="#7e0020" stroke-width="0.4"/>
<rect x="388.10" y="501.90" width="26.90" height="6.90" fill="#2d4b80" stroke="#1c3366" stroke-width="0.4"/>
<text x="418.10" y="495.30" font-size="8.94" stroke="#1a1a1a" stroke-width="0.1" textLength="23.80" lengthAdjust="spacingAndGlyphs" >empty</text>
<text x="418.10" y="508.30" font-size="8.94" stroke="#1a1a1a" stroke-width="0.1" textLength="57.70" lengthAdjust="spacingAndGlyphs" >RUNX1 + CBF&#946;</text>
<rect x="0.00" y="0.00" width="520.00" height="0.90" fill="#000" />
<rect x="0.00" y="0.00" width="0.90" height="644.00" fill="#000" />
<rect x="518.60" y="0.00" width="1.40" height="644.00" fill="#000" />
<rect x="0.00" y="642.50" width="520.00" height="1.50" fill="#000" />
</svg>
</body></html>
